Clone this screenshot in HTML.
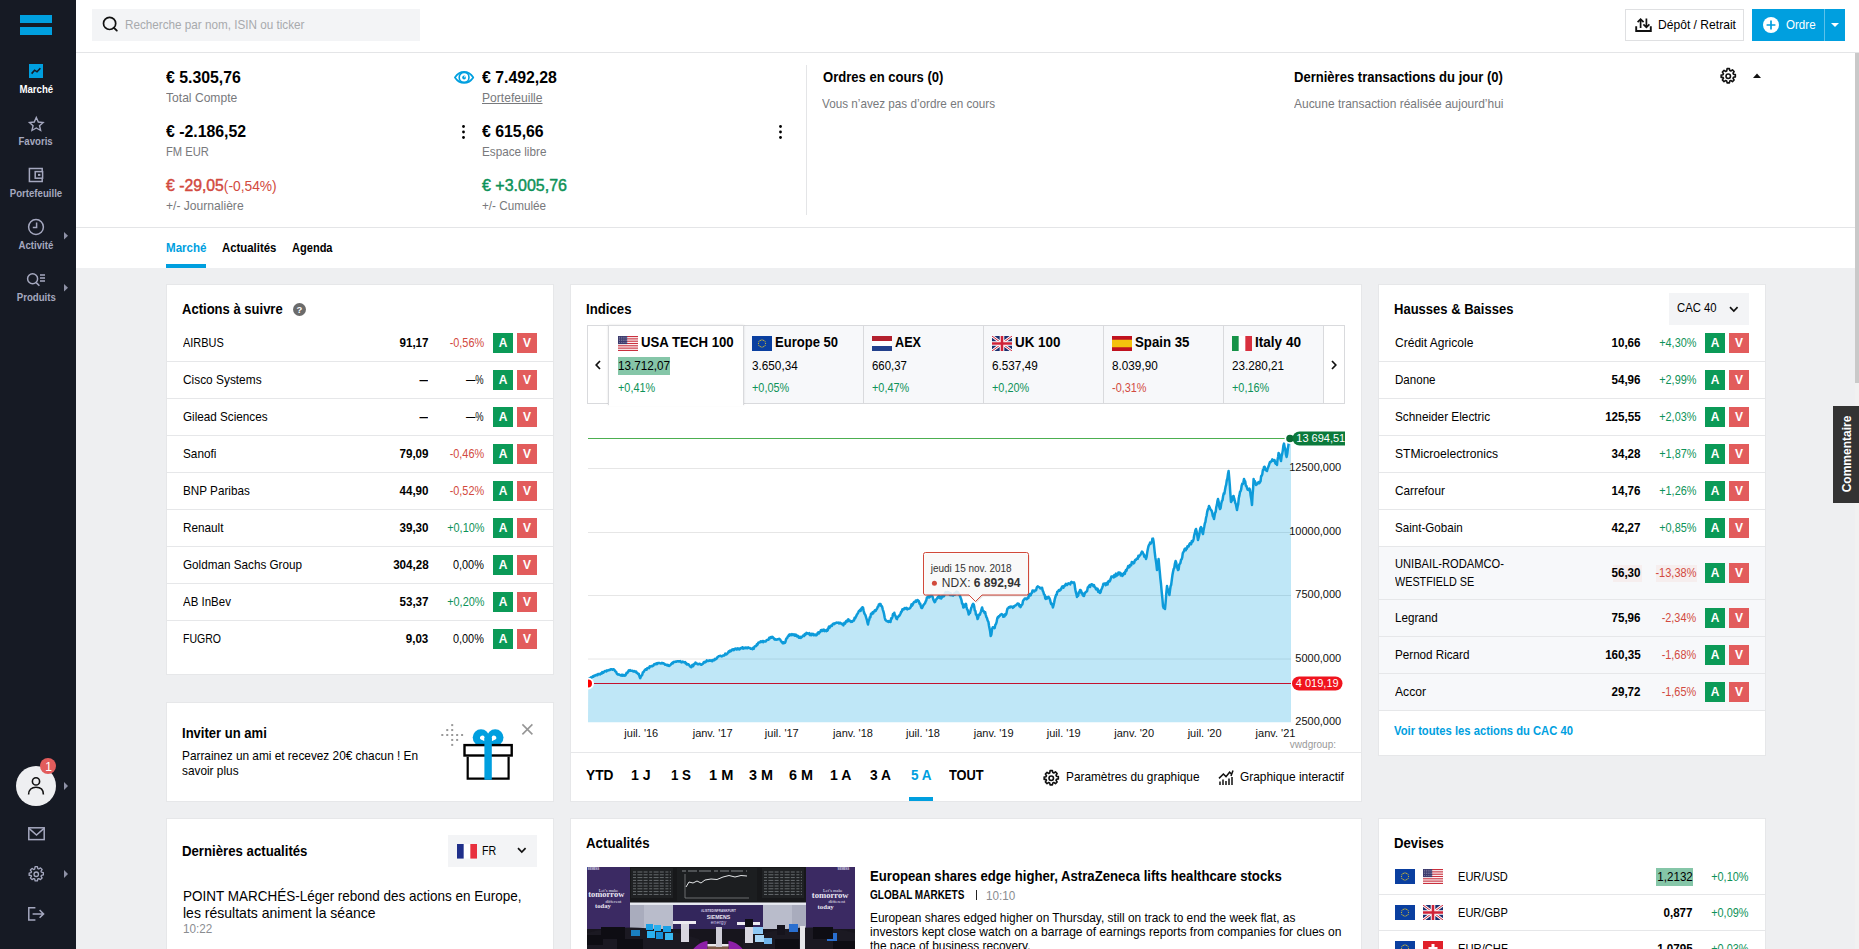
<!DOCTYPE html>
<html lang="fr"><head><meta charset="utf-8"><title>Marché</title>
<style>
*{box-sizing:border-box;margin:0;padding:0}
html,body{width:1859px;height:949px;overflow:hidden}
body{position:relative;background:#eeeff1;font-family:"Liberation Sans",sans-serif;color:#000}
.a{position:absolute}
.t{position:absolute;white-space:nowrap;line-height:1;transform-origin:0 50%;transform:scaleX(.905)}
.t.r{transform-origin:100% 50%}
.b{font-weight:700;transform:scaleX(.87)}
.n{transform:none}
.md{font-weight:400;-webkit-text-stroke:.45px currentColor}
.nm{-webkit-text-stroke:0}
.card{background:#fff;border:1px solid #e6e7e9}
.btn{position:absolute;width:20px;height:20px;color:#fff;font-weight:700;font-size:12px;line-height:20px;text-align:center}
.btn.A{background:#0b9a57}.btn.V{background:#e25c5c}
svg{overflow:visible}
.st{display:inline-block;font-size:11px;font-weight:700;line-height:1;white-space:nowrap;transform:scaleX(.875)}
</style></head>
<body>
<div class="a" style="left:76px;top:0px;width:1783px;height:53px;background:#fff;border-bottom:1px solid #e4e5e7"></div>
<div class="a" style="left:92px;top:9px;width:328px;height:32px;background:#f3f4f6"></div>
<svg class="a" style="left:102px;top:16px" width="18" height="18" viewBox="0 0 18 18"><circle cx="7.6" cy="7.4" r="6.1" fill="none" stroke="#111" stroke-width="1.7"/><path d="M12 11.8L14.8 14.6" stroke="#111" stroke-width="1.9" stroke-linecap="round"/></svg>
<div class="t" style="left:125.4px;top:18px;font-size:13px;color:#a8aaad;transform:scaleX(0.9)">Recherche par nom, ISIN ou ticker</div>
<div class="a" style="left:1625px;top:9px;width:119px;height:32px;background:#fff;border:1px solid #dfe0e2"></div>
<svg class="a" style="left:1635px;top:17px" width="18" height="16" viewBox="0 0 18 16"><path d="M1.2 9.3V14H15.8V9.3" fill="none" stroke="#111" stroke-width="1.9"/><path d="M5.6 11V2.6M2.6 5.2L5.6 2.2L8.6 5.2" fill="none" stroke="#111" stroke-width="1.7"/><path d="M11.4 1.6V10M8.4 7.4L11.4 10.4L14.4 7.4" fill="none" stroke="#111" stroke-width="1.7"/></svg>
<div class="t" style="left:1658px;top:18px;font-size:13px;transform:scaleX(0.93)">Dépôt / Retrait</div>
<div class="a" style="left:1752px;top:9px;width:93px;height:32px;background:#009fdf"></div>
<div class="a" style="left:1824px;top:9px;width:1px;height:32px;background:#5cc1ea"></div>
<svg class="a" style="left:1763px;top:17px" width="16" height="16" viewBox="0 0 16 16"><circle cx="8" cy="8" r="8" fill="#fff"/><path d="M8 3.6V12.4M3.6 8H12.4" stroke="#009fdf" stroke-width="1.7"/></svg>
<div class="t" style="left:1785.6px;top:18px;font-size:13px;color:#fff;transform:scaleX(0.891)">Ordre</div>
<svg class="a" style="left:1831px;top:23px" width="8" height="4" viewBox="0 0 8 4"><path d="M0 0H8L4 4Z" fill="#fff"/></svg>
<div class="a" style="left:0px;top:0px;width:76px;height:949px;background:#161a24"></div>
<div class="a" style="left:20px;top:15px;width:32px;height:8px;background:#009fdf"></div>
<div class="a" style="left:20px;top:27px;width:32px;height:8px;background:#009fdf"></div>
<div class="a" style="left:29px;top:64px;width:14px;height:14px;background:#009fdf"></div>
<svg class="a" style="left:29px;top:64px" width="14" height="14" viewBox="0 0 14 14"><path d="M2.6 9.6L5.6 6.2L8 7.8L11.4 4.2" fill="none" stroke="#161a24" stroke-width="1.6"/></svg>
<div class="a" style="left:0;width:72px;top:84px;text-align:center;font-size:11px;line-height:1;height:11px"><span class="st" style="color:#fff">Marché</span></div>
<svg class="a" style="left:27.7px;top:115.6px" width="16.6" height="15.7" viewBox="0 0 18 17"><path d="M9 1.6L11.2 6.5L16.4 7L12.5 10.5L13.7 15.7L9 13L4.3 15.7L5.5 10.5L1.6 7L6.8 6.5Z" fill="none" stroke="#a5a8bf" stroke-width="1.5" stroke-linejoin="miter"/></svg>
<div class="a" style="left:0;width:72px;top:136px;text-align:center;font-size:11px;line-height:1;height:11px"><span class="st" style="color:#a5a8bf">Favoris</span></div>
<svg class="a" style="left:28px;top:167px" width="16" height="16" viewBox="0 0 16 16"><path d="M14.2 4V1.6H1.4V14.4H14.2V12" fill="none" stroke="#a5a8bf" stroke-width="1.5"/><rect x="7.2" y="4.6" width="7.4" height="6.6" fill="none" stroke="#a5a8bf" stroke-width="1.5"/><rect x="10" y="6.9" width="2.4" height="2" fill="#a5a8bf"/></svg>
<div class="a" style="left:0;width:72px;top:188px;text-align:center;font-size:11px;line-height:1;height:11px"><span class="st" style="color:#a5a8bf">Portefeuille</span></div>
<svg class="a" style="left:27px;top:218px" width="18" height="18" viewBox="0 0 18 18"><circle cx="9" cy="9" r="7.4" fill="none" stroke="#a5a8bf" stroke-width="1.5"/><path d="M9.6 4.6V9.6H5.8" fill="none" stroke="#a5a8bf" stroke-width="1.5"/></svg>
<div class="a" style="left:0;width:72px;top:240px;text-align:center;font-size:11px;line-height:1;height:11px"><span class="st" style="color:#a5a8bf">Activité</span></div>
<svg class="a" style="left:64px;top:231.5px" width="4" height="7.5" viewBox="0 0 4 7.5"><path d="M0 0L4 3.75L0 7.5Z" fill="#8e91a6"/></svg>
<svg class="a" style="left:26px;top:272px" width="20" height="15" viewBox="0 0 20 15"><circle cx="6.6" cy="6.8" r="5" fill="none" stroke="#a5a8bf" stroke-width="1.5"/><path d="M10.2 10.6L13.4 13.8" stroke="#a5a8bf" stroke-width="1.6"/><path d="M14 3H19M14 6H19M14 9H19" stroke="#a5a8bf" stroke-width="1.5"/></svg>
<div class="a" style="left:0;width:72px;top:292px;text-align:center;font-size:11px;line-height:1;height:11px"><span class="st" style="color:#a5a8bf">Produits</span></div>
<svg class="a" style="left:64px;top:283.5px" width="4" height="7.5" viewBox="0 0 4 7.5"><path d="M0 0L4 3.75L0 7.5Z" fill="#8e91a6"/></svg>
<div class="a" style="left:16px;top:766px;width:40px;height:40px;background:#eeeff1;border-radius:50%"></div>
<svg class="a" style="left:26px;top:775px" width="20" height="22" viewBox="0 0 20 22"><circle cx="10" cy="6.4" r="3.6" fill="none" stroke="#111" stroke-width="1.6"/><path d="M2.6 19.4C2.6 14.6 5.8 12.2 10 12.2C14.2 12.2 17.4 14.6 17.4 19.4" fill="none" stroke="#111" stroke-width="1.6"/></svg>
<div class="a" style="left:40px;top:758px;width:16px;height:16px;background:#e25c5c;border-radius:50%"></div>
<div class="t" style="left:45.2px;top:761px;font-size:12px;color:#fff;transform:scaleX(1)">1</div>
<svg class="a" style="left:64px;top:782px" width="4" height="8" viewBox="0 0 4 8"><path d="M0 0L4 4L0 8Z" fill="#8e91a6"/></svg>
<svg class="a" style="left:28px;top:827px" width="17" height="14" viewBox="0 0 17 14"><rect x="0.8" y="0.8" width="15.4" height="11.8" fill="none" stroke="#a5a8bf" stroke-width="1.5"/><path d="M1 1.4L8.5 8L16 1.4" fill="none" stroke="#a5a8bf" stroke-width="1.5"/></svg>
<svg class="a" style="left:28px;top:866px" width="16.5" height="16.5" viewBox="0 0 20 20"><path d="M8.6 0.8h2.8l.5 2.3 1.2.5 2-1.3 2 2-1.3 2 .5 1.2 2.3.5v2.8l-2.3.5-.5 1.2 1.3 2-2 2-2-1.3-1.2.5-.5 2.3H8.600000000000001l-.5-2.3-1.2-.5-2 1.3-2-2 1.3-2-.5-1.2L1.4 11.400000000000002V8.600000000000001l2.3-.5.5-1.2-1.3-2 2-2 2 1.3 1.2-.5z" fill="none" stroke="#a5a8bf" stroke-width="1.6" stroke-linejoin="round"/><circle cx="10" cy="10" r="2.7" fill="none" stroke="#a5a8bf" stroke-width="1.6"/></svg>
<svg class="a" style="left:64px;top:870px" width="4" height="8" viewBox="0 0 4 8"><path d="M0 0L4 4L0 8Z" fill="#8e91a6"/></svg>
<svg class="a" style="left:28px;top:907px" width="17" height="14" viewBox="0 0 17 14"><path d="M7.4 0.8H0.8V13H7.4" fill="none" stroke="#a5a8bf" stroke-width="1.5"/><path d="M4.6 6.9H15.4M11.6 3L15.6 6.9L11.6 10.8" fill="none" stroke="#a5a8bf" stroke-width="1.5"/></svg>
<div class="a" style="left:76px;top:53px;width:1779px;height:174px;background:#fff"></div>
<div class="a" style="left:76px;top:227px;width:1779px;height:41px;background:#fff;border-top:1px solid #e4e5e7"></div>
<div class="a" style="left:1855px;top:53px;width:4px;height:896px;background:#f1f1f1"></div>
<div class="a" style="left:1855px;top:53px;width:4px;height:330px;background:#c9c9c9"></div>
<div class="t b" style="left:166px;top:70px;font-size:16px;color:#000;transform:scaleX(0.99)">€ 5.305,76</div>
<div class="t" style="left:166px;top:91px;font-size:13px;color:#78797c;transform:scaleX(0.93)">Total Compte</div>
<div class="t b" style="left:166px;top:124px;font-size:16px;color:#000;transform:scaleX(0.99)">€ -2.186,52</div>
<div class="t" style="left:166px;top:145px;font-size:13px;color:#78797c;transform:scaleX(0.86)">FM EUR</div>
<div class="t md" style="left:166px;top:178px;font-size:16px;color:#d24a40;transform:scaleX(.985)">€ -29,05<span class="nm" style="font-size:14px">(-0,54%)</span></div>
<div class="t" style="left:166px;top:199px;font-size:13px;color:#78797c;transform:scaleX(0.93)">+/- Journalière</div>
<div class="t b" style="left:482px;top:70px;font-size:16px;color:#000;transform:scaleX(0.99)">€ 7.492,28</div>
<div class="t" style="left:482px;top:91px;font-size:13px;color:#78797c;transform:scaleX(0.93);text-decoration:underline">Portefeuille</div>
<div class="t b" style="left:482px;top:124px;font-size:16px;color:#000;transform:scaleX(0.99)">€ 615,66</div>
<div class="t" style="left:482px;top:145px;font-size:13px;color:#78797c;transform:scaleX(0.9)">Espace libre</div>
<div class="t md" style="left:482px;top:178px;font-size:16px;color:#0d9258;transform:scaleX(1.0)">€ +3.005,76</div>
<div class="t" style="left:482px;top:199px;font-size:13px;color:#78797c;transform:scaleX(0.9)">+/- Cumulée</div>
<svg class="a" style="left:454px;top:70px" width="20" height="14" viewBox="0 0 20 14"><path d="M0.9 7.4C4 2.8 7.4 1.9 10.1 1.9C12.8 1.9 16.2 2.8 19.3 7.4C16.2 12 12.8 12.9 10.1 12.9C7.4 12.9 4 12 0.9 7.4Z" fill="none" stroke="#009fdf" stroke-width="1.7" stroke-linejoin="round"/><circle cx="10.1" cy="7.4" r="4.9" fill="none" stroke="#009fdf" stroke-width="1.6"/><circle cx="10.1" cy="7.5" r="1.9" fill="#009fdf"/><circle cx="10.9" cy="6.7" r="0.8" fill="#fff"/></svg>
<svg class="a" style="left:462px;top:124.5px" width="3" height="14" viewBox="0 0 3 14"><circle cx="1.5" cy="1.5" r="1.4"/><circle cx="1.5" cy="7" r="1.4"/><circle cx="1.5" cy="12.5" r="1.4"/></svg>
<svg class="a" style="left:778.5px;top:124.5px" width="3" height="14" viewBox="0 0 3 14"><circle cx="1.5" cy="1.5" r="1.4"/><circle cx="1.5" cy="7" r="1.4"/><circle cx="1.5" cy="12.5" r="1.4"/></svg>
<div class="a" style="left:806px;top:65px;width:1px;height:150px;background:#e4e5e7"></div>
<div class="t b" style="left:822.5px;top:69px;font-size:15px">Ordres en cours (0)</div>
<div class="t" style="left:822.3px;top:97px;font-size:13px;color:#78797c;transform:scaleX(0.9)">Vous n’avez pas d’ordre en cours</div>
<div class="t b" style="left:1294px;top:69px;font-size:15px">Dernières transactions du jour (0)</div>
<div class="t" style="left:1294px;top:97px;font-size:13px;color:#78797c;transform:scaleX(0.92)">Aucune transaction réalisée aujourd’hui</div>
<svg class="a" style="left:1720px;top:67.5px" width="16.5" height="16.5" viewBox="0 0 20 20"><path d="M8.6 0.8h2.8l.5 2.3 1.2.5 2-1.3 2 2-1.3 2 .5 1.2 2.3.5v2.8l-2.3.5-.5 1.2 1.3 2-2 2-2-1.3-1.2.5-.5 2.3H8.600000000000001l-.5-2.3-1.2-.5-2 1.3-2-2 1.3-2-.5-1.2L1.4 11.400000000000002V8.600000000000001l2.3-.5.5-1.2-1.3-2 2-2 2 1.3 1.2-.5z" fill="none" stroke="#111" stroke-width="1.95" stroke-linejoin="round"/><circle cx="10" cy="10" r="2.7" fill="none" stroke="#111" stroke-width="1.95"/></svg>
<svg class="a" style="left:1752.5px;top:73px" width="8" height="5" viewBox="0 0 8 5"><path d="M0 5H8L4 0.6Z" fill="#111"/></svg>
<div class="t" style="left:166px;top:241px;font-size:13px;color:#009fdf;transform:scaleX(0.89);font-weight:700">Marché</div>
<div class="t" style="left:222px;top:241px;font-size:13px;transform:scaleX(0.875);font-weight:700">Actualités</div>
<div class="t" style="left:292.3px;top:241px;font-size:13px;transform:scaleX(0.85);font-weight:700">Agenda</div>
<div class="a" style="left:166px;top:264px;width:40px;height:4px;background:#009fdf"></div>
<div class="a card" style="left:166px;top:284px;width:388px;height:391px"></div>
<div class="t b" style="left:182.2px;top:301px;font-size:15px;transform:scaleX(0.869)">Actions à suivre</div>
<svg class="a" style="left:292.7px;top:303px" width="13" height="13" viewBox="0 0 13 13"><circle cx="6.5" cy="6.5" r="6.5" fill="#6b6b6b"/><text x="6.5" y="10" font-size="9.5" font-weight="700" text-anchor="middle" fill="#fff" font-family="Liberation Sans, sans-serif">?</text></svg>
<div class="t" style="left:182.7px;top:336px;font-size:13px;transform:scaleX(0.843)">AIRBUS</div>
<div class="t r b" style="right:1430.7px;top:336px;font-size:13px;transform:scaleX(0.894)">91,17</div>
<div class="t r" style="right:1375px;top:336px;font-size:13px;color:#d24a40;transform:scaleX(0.839)">-0,56%</div>
<div class="btn A" style="left:493px;top:333px">A</div><div class="btn V" style="left:517px;top:333px">V</div>
<div class="a" style="left:167px;top:361px;width:386px;height:1px;background:#e6e7e9"></div>
<div class="t" style="left:182.7px;top:373px;font-size:13px;transform:scaleX(0.914)">Cisco Systems</div>
<div class="t r b" style="right:1430.7px;top:373px;font-size:13px;transform:scaleX(0.65)">—</div>
<div class="t r" style="right:1375px;top:373px;font-size:13px;color:#000;transform:scaleX(0.72)">—%</div>
<div class="btn A" style="left:493px;top:370px">A</div><div class="btn V" style="left:517px;top:370px">V</div>
<div class="a" style="left:167px;top:398px;width:386px;height:1px;background:#e6e7e9"></div>
<div class="t" style="left:182.7px;top:410px;font-size:13px;transform:scaleX(0.9)">Gilead Sciences</div>
<div class="t r b" style="right:1430.7px;top:410px;font-size:13px;transform:scaleX(0.65)">—</div>
<div class="t r" style="right:1375px;top:410px;font-size:13px;color:#000;transform:scaleX(0.72)">—%</div>
<div class="btn A" style="left:493px;top:407px">A</div><div class="btn V" style="left:517px;top:407px">V</div>
<div class="a" style="left:167px;top:435px;width:386px;height:1px;background:#e6e7e9"></div>
<div class="t" style="left:182.7px;top:447px;font-size:13px;transform:scaleX(0.906)">Sanofi</div>
<div class="t r b" style="right:1430.7px;top:447px;font-size:13px;transform:scaleX(0.894)">79,09</div>
<div class="t r" style="right:1375px;top:447px;font-size:13px;color:#d24a40;transform:scaleX(0.839)">-0,46%</div>
<div class="btn A" style="left:493px;top:444px">A</div><div class="btn V" style="left:517px;top:444px">V</div>
<div class="a" style="left:167px;top:472px;width:386px;height:1px;background:#e6e7e9"></div>
<div class="t" style="left:182.7px;top:484px;font-size:13px;transform:scaleX(0.9)">BNP Paribas</div>
<div class="t r b" style="right:1430.7px;top:484px;font-size:13px;transform:scaleX(0.894)">44,90</div>
<div class="t r" style="right:1375px;top:484px;font-size:13px;color:#d24a40;transform:scaleX(0.839)">-0,52%</div>
<div class="btn A" style="left:493px;top:481px">A</div><div class="btn V" style="left:517px;top:481px">V</div>
<div class="a" style="left:167px;top:509px;width:386px;height:1px;background:#e6e7e9"></div>
<div class="t" style="left:182.7px;top:521px;font-size:13px;transform:scaleX(0.903)">Renault</div>
<div class="t r b" style="right:1430.7px;top:521px;font-size:13px;transform:scaleX(0.894)">39,30</div>
<div class="t r" style="right:1375px;top:521px;font-size:13px;color:#0d9258;transform:scaleX(0.838)">+0,10%</div>
<div class="btn A" style="left:493px;top:518px">A</div><div class="btn V" style="left:517px;top:518px">V</div>
<div class="a" style="left:167px;top:546px;width:386px;height:1px;background:#e6e7e9"></div>
<div class="t" style="left:182.7px;top:558px;font-size:13px;transform:scaleX(0.9)">Goldman Sachs Group</div>
<div class="t r b" style="right:1430.7px;top:558px;font-size:13px;transform:scaleX(0.896)">304,28</div>
<div class="t r" style="right:1375px;top:558px;font-size:13px;color:#000;transform:scaleX(0.839)">0,00%</div>
<div class="btn A" style="left:493px;top:555px">A</div><div class="btn V" style="left:517px;top:555px">V</div>
<div class="a" style="left:167px;top:583px;width:386px;height:1px;background:#e6e7e9"></div>
<div class="t" style="left:182.7px;top:595px;font-size:13px;transform:scaleX(0.884)">AB InBev</div>
<div class="t r b" style="right:1430.7px;top:595px;font-size:13px;transform:scaleX(0.894)">53,37</div>
<div class="t r" style="right:1375px;top:595px;font-size:13px;color:#0d9258;transform:scaleX(0.838)">+0,20%</div>
<div class="btn A" style="left:493px;top:592px">A</div><div class="btn V" style="left:517px;top:592px">V</div>
<div class="a" style="left:167px;top:620px;width:386px;height:1px;background:#e6e7e9"></div>
<div class="t" style="left:182.7px;top:632px;font-size:13px;transform:scaleX(0.81)">FUGRO</div>
<div class="t r b" style="right:1430.7px;top:632px;font-size:13px;transform:scaleX(0.891)">9,03</div>
<div class="t r" style="right:1375px;top:632px;font-size:13px;color:#000;transform:scaleX(0.839)">0,00%</div>
<div class="btn A" style="left:493px;top:629px">A</div><div class="btn V" style="left:517px;top:629px">V</div>
<div class="a card" style="left:1378px;top:284px;width:388px;height:472px"></div>
<div class="t b" style="left:1393.7px;top:301px;font-size:15px;transform:scaleX(0.868)">Hausses &amp; Baisses</div>
<div class="a" style="left:1669px;top:293px;width:80px;height:32px;background:#f3f4f6"></div>
<div class="t" style="left:1677px;top:301px;font-size:13px;transform:scaleX(0.868)">CAC 40</div>
<svg class="a" style="left:1729.3px;top:305.5px" width="9.6" height="6.2" viewBox="0 0 9.6 6.2"><path d="M1 1.2L4.8 5L8.600000000000001 1.2" fill="none" stroke="#111" stroke-width="1.7"/></svg>
<div class="t" style="left:1394.7px;top:336px;font-size:13px;transform:scaleX(0.927)">Crédit Agricole</div>
<div class="t r b" style="right:218.5px;top:336px;font-size:13px;transform:scaleX(0.894)">10,66</div>
<div class="t r" style="right:163px;top:336px;font-size:13px;color:#0d9258;transform:scaleX(0.838)">+4,30%</div>
<div class="btn A" style="left:1705px;top:333px">A</div><div class="btn V" style="left:1729px;top:333px">V</div>
<div class="a" style="left:1379px;top:361px;width:386px;height:1px;background:#e6e7e9"></div>
<div class="t" style="left:1394.7px;top:373px;font-size:13px;transform:scaleX(0.889)">Danone</div>
<div class="t r b" style="right:218.5px;top:373px;font-size:13px;transform:scaleX(0.894)">54,96</div>
<div class="t r" style="right:163px;top:373px;font-size:13px;color:#0d9258;transform:scaleX(0.838)">+2,99%</div>
<div class="btn A" style="left:1705px;top:370px">A</div><div class="btn V" style="left:1729px;top:370px">V</div>
<div class="a" style="left:1379px;top:398px;width:386px;height:1px;background:#e6e7e9"></div>
<div class="t" style="left:1394.7px;top:410px;font-size:13px;transform:scaleX(0.907)">Schneider Electric</div>
<div class="t r b" style="right:218.5px;top:410px;font-size:13px;transform:scaleX(0.896)">125,55</div>
<div class="t r" style="right:163px;top:410px;font-size:13px;color:#0d9258;transform:scaleX(0.838)">+2,03%</div>
<div class="btn A" style="left:1705px;top:407px">A</div><div class="btn V" style="left:1729px;top:407px">V</div>
<div class="a" style="left:1379px;top:435px;width:386px;height:1px;background:#e6e7e9"></div>
<div class="t" style="left:1394.7px;top:447px;font-size:13px;transform:scaleX(0.932)">STMicroelectronics</div>
<div class="t r b" style="right:218.5px;top:447px;font-size:13px;transform:scaleX(0.894)">34,28</div>
<div class="t r" style="right:163px;top:447px;font-size:13px;color:#0d9258;transform:scaleX(0.838)">+1,87%</div>
<div class="btn A" style="left:1705px;top:444px">A</div><div class="btn V" style="left:1729px;top:444px">V</div>
<div class="a" style="left:1379px;top:472px;width:386px;height:1px;background:#e6e7e9"></div>
<div class="t" style="left:1394.7px;top:484px;font-size:13px;transform:scaleX(0.909)">Carrefour</div>
<div class="t r b" style="right:218.5px;top:484px;font-size:13px;transform:scaleX(0.894)">14,76</div>
<div class="t r" style="right:163px;top:484px;font-size:13px;color:#0d9258;transform:scaleX(0.838)">+1,26%</div>
<div class="btn A" style="left:1705px;top:481px">A</div><div class="btn V" style="left:1729px;top:481px">V</div>
<div class="a" style="left:1379px;top:509px;width:386px;height:1px;background:#e6e7e9"></div>
<div class="t" style="left:1394.7px;top:521px;font-size:13px;transform:scaleX(0.892)">Saint-Gobain</div>
<div class="t r b" style="right:218.5px;top:521px;font-size:13px;transform:scaleX(0.894)">42,27</div>
<div class="t r" style="right:163px;top:521px;font-size:13px;color:#0d9258;transform:scaleX(0.838)">+0,85%</div>
<div class="btn A" style="left:1705px;top:518px">A</div><div class="btn V" style="left:1729px;top:518px">V</div>
<div class="a" style="left:1379px;top:546px;width:386px;height:53px;background:#f7f8fa"></div>
<div class="a" style="left:1379px;top:546px;width:386px;height:1px;background:#e6e7e9"></div>
<div class="t" style="left:1394.7px;top:557px;font-size:13px;transform:scaleX(0.857)">UNIBAIL-RODAMCO-</div>
<div class="t" style="left:1394.7px;top:575px;font-size:13px;transform:scaleX(0.83)">WESTFIELD SE</div>
<div class="a" style="left:1612.5px;top:564.5px;width:29px;height:17px;background:#f6eeee"></div>
<div class="a" style="left:1656px;top:564.5px;width:41px;height:17px;background:#f6eeee"></div>
<div class="t r b" style="right:218.5px;top:566px;font-size:13px;transform:scaleX(0.894)">56,30</div>
<div class="t r" style="right:163px;top:566px;font-size:13px;color:#d24a40;transform:scaleX(0.846)">-13,38%</div>
<div class="btn A" style="left:1705px;top:563px">A</div><div class="btn V" style="left:1729px;top:563px">V</div>
<div class="a" style="left:1379px;top:599px;width:386px;height:37px;background:#f7f8fa"></div>
<div class="a" style="left:1379px;top:599px;width:386px;height:1px;background:#e6e7e9"></div>
<div class="t" style="left:1394.7px;top:611px;font-size:13px;transform:scaleX(0.895)">Legrand</div>
<div class="t r b" style="right:218.5px;top:611px;font-size:13px;transform:scaleX(0.894)">75,96</div>
<div class="t r" style="right:163px;top:611px;font-size:13px;color:#d24a40;transform:scaleX(0.839)">-2,34%</div>
<div class="btn A" style="left:1705px;top:608px">A</div><div class="btn V" style="left:1729px;top:608px">V</div>
<div class="a" style="left:1379px;top:636px;width:386px;height:37px;background:#f7f8fa"></div>
<div class="a" style="left:1379px;top:636px;width:386px;height:1px;background:#e6e7e9"></div>
<div class="t" style="left:1394.7px;top:648px;font-size:13px;transform:scaleX(0.896)">Pernod Ricard</div>
<div class="t r b" style="right:218.5px;top:648px;font-size:13px;transform:scaleX(0.896)">160,35</div>
<div class="t r" style="right:163px;top:648px;font-size:13px;color:#d24a40;transform:scaleX(0.839)">-1,68%</div>
<div class="btn A" style="left:1705px;top:645px">A</div><div class="btn V" style="left:1729px;top:645px">V</div>
<div class="a" style="left:1379px;top:673px;width:386px;height:37px;background:#f7f8fa"></div>
<div class="a" style="left:1379px;top:673px;width:386px;height:1px;background:#e6e7e9"></div>
<div class="t" style="left:1394.7px;top:685px;font-size:13px;transform:scaleX(0.933)">Accor</div>
<div class="t r b" style="right:218.5px;top:685px;font-size:13px;transform:scaleX(0.894)">29,72</div>
<div class="t r" style="right:163px;top:685px;font-size:13px;color:#d24a40;transform:scaleX(0.839)">-1,65%</div>
<div class="btn A" style="left:1705px;top:682px">A</div><div class="btn V" style="left:1729px;top:682px">V</div>
<div class="a" style="left:1379px;top:710px;width:386px;height:1px;background:#e6e7e9"></div>
<div class="t b" style="left:1393.8px;top:724px;font-size:13px;color:#009fdf;transform:scaleX(0.864)">Voir toutes les actions du CAC 40</div>
<div class="a card" style="left:166px;top:702px;width:388px;height:100px"></div>
<div class="t b" style="left:182.3px;top:725px;font-size:15px">Inviter un ami</div>
<div class="t" style="left:182.4px;top:749px;font-size:13px;transform:scaleX(0.91)">Parrainez un ami et recevez 20€ chacun ! En</div>
<div class="t" style="left:182.4px;top:764px;font-size:13px;transform:scaleX(0.91)">savoir plus</div>
<svg class="a" style="left:521.6px;top:723.6px" width="10.8" height="10.8" viewBox="0 0 10.8 10.8"><path d="M0.4 0.4L10.4 10.4M10.4 0.4L0.4 10.4" stroke="#969696" stroke-width="1.6"/></svg>
<svg class="a" style="left:435px;top:715px" width="110" height="75" viewBox="435 715 110 75"><clipPath id="bowc"><rect x="470" y="725" width="40" height="19.6"/></clipPath><g clip-path="url(#bowc)"><circle cx="481" cy="737.5" r="8.3" fill="#009fdf"/><circle cx="495.2" cy="737.5" r="8.3" fill="#009fdf"/><path d="M484.6 741.2L480.6 739.3C479.2 738.2 480.2 735.6 482.4 735.4C484 735.3 484.6 736.6 484.6 738Z" fill="#fff"/><path d="M491.7 741.2L495.7 739.3C497.1 738.2 496.1 735.6 493.9 735.4C492.3 735.3 491.7 736.6 491.7 738Z" fill="#fff"/></g><rect x="464.5" y="745.1" width="47.2" height="10.4" fill="#fff" stroke="#000" stroke-width="2.4"/><path d="M467.7 756.7V778.7H508.6V756.7" fill="none" stroke="#000" stroke-width="2.2"/><rect x="484.4" y="738" width="7.4" height="41.8" fill="#009fdf"/><rect x="451.20" y="724.10" width="2" height="2" fill="#999"/><rect x="446.25" y="729.05" width="2" height="2" fill="#999"/><rect x="451.20" y="729.05" width="2" height="2" fill="#999"/><rect x="441.30" y="734.00" width="2" height="2" fill="#999"/><rect x="446.25" y="734.00" width="2" height="2" fill="#999"/><rect x="451.20" y="734.00" width="2" height="2" fill="#999"/><rect x="456.15" y="734.00" width="2" height="2" fill="#999"/><rect x="461.10" y="734.00" width="2" height="2" fill="#999"/><rect x="451.20" y="738.95" width="2" height="2" fill="#999"/><rect x="456.15" y="738.95" width="2" height="2" fill="#999"/><rect x="451.20" y="743.90" width="2" height="2" fill="#999"/></svg>
<div class="a card" style="left:570px;top:284px;width:792px;height:518px"></div>
<div class="t b" style="left:586.2px;top:301px;font-size:15px;transform:scaleX(0.88)">Indices</div>
<div class="a" style="left:587px;top:325px;width:758px;height:79px;background:#f7f8fa;border:1px solid #d9dadd"></div>
<div class="a" style="left:587px;top:325px;width:22px;height:79px;background:#fff;border:1px solid #d9dadd"></div>
<div class="a" style="left:1323px;top:325px;width:22px;height:79px;background:#fff;border:1px solid #d9dadd"></div>
<div class="a" style="left:608px;top:325px;width:136px;height:80px;background:#fff;border:1px solid #d9dadd;border-bottom:none;box-shadow:0 0 2px rgba(0,0,0,.12)"></div>
<div class="a" style="left:609px;top:403px;width:134px;height:3px;background:#fff"></div>
<div class="a" style="left:863px;top:326px;width:1px;height:77px;background:#d9dadd"></div>
<div class="a" style="left:983px;top:326px;width:1px;height:77px;background:#d9dadd"></div>
<div class="a" style="left:1103px;top:326px;width:1px;height:77px;background:#d9dadd"></div>
<div class="a" style="left:1223px;top:326px;width:1px;height:77px;background:#d9dadd"></div>
<svg class="a" style="left:594.5px;top:359.5px" width="6" height="10" viewBox="0 0 6 10"><path d="M5 1L1.2 5L5 9" fill="none" stroke="#111" stroke-width="1.7"/></svg>
<svg class="a" style="left:1330.5px;top:359.5px" width="6" height="10" viewBox="0 0 6 10"><path d="M1 1L4.8 5L1 9" fill="none" stroke="#111" stroke-width="1.7"/></svg>
<svg class="a" style="left:618px;top:336px;overflow:hidden" width="20" height="15" viewBox="0 0 20 15"><rect width="20" height="15" fill="#fff"/><rect y="0.00" width="20" height="1.15" fill="#c9303e"/><rect y="2.31" width="20" height="1.15" fill="#c9303e"/><rect y="4.62" width="20" height="1.15" fill="#c9303e"/><rect y="6.92" width="20" height="1.15" fill="#c9303e"/><rect y="9.23" width="20" height="1.15" fill="#c9303e"/><rect y="11.54" width="20" height="1.15" fill="#c9303e"/><rect y="13.85" width="20" height="1.15" fill="#c9303e"/><rect width="9.2" height="8.10" fill="#3c3b6e"/><circle cx="1.3" cy="1.2" r="0.35" fill="#fff"/><circle cx="1.3" cy="2.9" r="0.35" fill="#fff"/><circle cx="1.3" cy="4.6" r="0.35" fill="#fff"/><circle cx="1.3" cy="6.3" r="0.35" fill="#fff"/><circle cx="3.2" cy="1.2" r="0.35" fill="#fff"/><circle cx="3.2" cy="2.9" r="0.35" fill="#fff"/><circle cx="3.2" cy="4.6" r="0.35" fill="#fff"/><circle cx="3.2" cy="6.3" r="0.35" fill="#fff"/><circle cx="5.1" cy="1.2" r="0.35" fill="#fff"/><circle cx="5.1" cy="2.9" r="0.35" fill="#fff"/><circle cx="5.1" cy="4.6" r="0.35" fill="#fff"/><circle cx="5.1" cy="6.3" r="0.35" fill="#fff"/><circle cx="7.0" cy="1.2" r="0.35" fill="#fff"/><circle cx="7.0" cy="2.9" r="0.35" fill="#fff"/><circle cx="7.0" cy="4.6" r="0.35" fill="#fff"/><circle cx="7.0" cy="6.3" r="0.35" fill="#fff"/><circle cx="8.9" cy="1.2" r="0.35" fill="#fff"/><circle cx="8.9" cy="2.9" r="0.35" fill="#fff"/><circle cx="8.9" cy="4.6" r="0.35" fill="#fff"/><circle cx="8.9" cy="6.3" r="0.35" fill="#fff"/></svg>
<div class="t b" style="left:641.4px;top:334px;font-size:15px;transform:scaleX(0.88)">USA TECH 100</div>
<div class="a" style="left:618px;top:357.2px;width:52px;height:17.5px;background:#85c6a8"></div>
<div class="t" style="left:618px;top:359px;font-size:13px;transform:scaleX(0.901)">13.712,07</div>
<div class="t" style="left:618px;top:381px;font-size:13px;color:#0d9258;transform:scaleX(0.838)">+0,41%</div>
<svg class="a" style="left:751.8px;top:336px;overflow:hidden" width="20" height="15" viewBox="0 0 20 15"><rect width="20" height="15" fill="#0a3fa0"/><circle cx="13.60" cy="7.50" r="0.55" fill="#f5d21f"/><circle cx="13.12" cy="9.30" r="0.55" fill="#f5d21f"/><circle cx="11.80" cy="10.62" r="0.55" fill="#f5d21f"/><circle cx="10.00" cy="11.10" r="0.55" fill="#f5d21f"/><circle cx="8.20" cy="10.62" r="0.55" fill="#f5d21f"/><circle cx="6.88" cy="9.30" r="0.55" fill="#f5d21f"/><circle cx="6.40" cy="7.50" r="0.55" fill="#f5d21f"/><circle cx="6.88" cy="5.70" r="0.55" fill="#f5d21f"/><circle cx="8.20" cy="4.38" r="0.55" fill="#f5d21f"/><circle cx="10.00" cy="3.90" r="0.55" fill="#f5d21f"/><circle cx="11.80" cy="4.38" r="0.55" fill="#f5d21f"/><circle cx="13.12" cy="5.70" r="0.55" fill="#f5d21f"/></svg>
<div class="t b" style="left:775.2px;top:334px;font-size:15px;transform:scaleX(0.869)">Europe 50</div>
<div class="t" style="left:751.8px;top:359px;font-size:13px;transform:scaleX(0.903)">3.650,34</div>
<div class="t" style="left:751.8px;top:381px;font-size:13px;color:#0d9258;transform:scaleX(0.838)">+0,05%</div>
<svg class="a" style="left:872px;top:336px;overflow:hidden" width="20" height="15" viewBox="0 0 20 15"><rect width="20" height="15" fill="#fff"/><rect width="20" height="5.00" fill="#b3202e"/><rect y="10.00" width="20" height="5.00" fill="#22408c"/></svg>
<div class="t b" style="left:895.4px;top:334px;font-size:15px;transform:scaleX(0.843)">AEX</div>
<div class="t" style="left:872px;top:359px;font-size:13px;transform:scaleX(0.876)">660,37</div>
<div class="t" style="left:872px;top:381px;font-size:13px;color:#0d9258;transform:scaleX(0.838)">+0,47%</div>
<svg class="a" style="left:992px;top:336px;overflow:hidden" width="20" height="15" viewBox="0 0 20 15"><rect width="20" height="15" fill="#1b2f6e"/><path d="M0 0L20 15M20 0L0 15" stroke="#fff" stroke-width="2.8"/><path d="M0 0L20 15M20 0L0 15" stroke="#cf2338" stroke-width="1"/><path d="M10.0 0V15M0 7.5H20" stroke="#fff" stroke-width="4.6"/><path d="M10.0 0V15M0 7.5H20" stroke="#cf2338" stroke-width="2.6"/></svg>
<div class="t b" style="left:1015.4px;top:334px;font-size:15px;transform:scaleX(0.895)">UK 100</div>
<div class="t" style="left:992px;top:359px;font-size:13px;transform:scaleX(0.903)">6.537,49</div>
<div class="t" style="left:992px;top:381px;font-size:13px;color:#0d9258;transform:scaleX(0.838)">+0,20%</div>
<svg class="a" style="left:1112px;top:336px;overflow:hidden" width="20" height="15" viewBox="0 0 20 15"><rect width="20" height="15" fill="#f4c20d"/><rect width="20" height="3.75" fill="#c0121f"/><rect y="11.25" width="20" height="3.75" fill="#c0121f"/></svg>
<div class="t b" style="left:1135.4px;top:334px;font-size:15px;transform:scaleX(0.883)">Spain 35</div>
<div class="t" style="left:1112px;top:359px;font-size:13px;transform:scaleX(0.903)">8.039,90</div>
<div class="t" style="left:1112px;top:381px;font-size:13px;color:#d24a40;transform:scaleX(0.839)">-0,31%</div>
<svg class="a" style="left:1232px;top:336px;overflow:hidden" width="20" height="15" viewBox="0 0 20 15"><rect width="20" height="15" fill="#fff"/><rect width="6.67" height="15" fill="#159247"/><rect x="13.33" width="6.67" height="15" fill="#d8303e"/></svg>
<div class="t b" style="left:1255.4px;top:334px;font-size:15px;transform:scaleX(0.904)">Italy 40</div>
<div class="t" style="left:1232px;top:359px;font-size:13px;transform:scaleX(0.901)">23.280,21</div>
<div class="t" style="left:1232px;top:381px;font-size:13px;color:#0d9258;transform:scaleX(0.838)">+0,16%</div>
<svg class="a" style="left:571px;top:420px" width="790" height="335" viewBox="571 420 790 335"><defs><clipPath id="cp"><rect x="588" y="425" width="757" height="330"/></clipPath></defs><g clip-path="url(#cp)"><path d="M588 468.5H1291" stroke="#e6e6e6" stroke-width="1"/><path d="M588 532.5H1291" stroke="#e6e6e6" stroke-width="1"/><path d="M588 595.5H1291" stroke="#e6e6e6" stroke-width="1"/><path d="M588 659H1291" stroke="#e6e6e6" stroke-width="1"/><path d="M588.2 679.3 L588.8 678.8 L589.3 678.3 L589.9 678.7 L590.4 678.2 L591.0 677.3 L591.6 677.6 L592.2 677.1 L592.8 676.4 L593.3 676.7 L593.9 675.8 L594.5 676.0 L595.1 675.2 L595.7 675.5 L596.3 674.7 L596.9 674.9 L597.5 675.2 L598.1 674.0 L598.7 673.9 L599.3 674.2 L599.9 674.4 L600.5 673.6 L601.1 673.1 L601.7 673.7 L602.3 672.1 L602.9 672.5 L603.5 672.7 L604.1 671.7 L604.7 671.2 L605.3 671.0 L605.9 671.0 L606.5 671.4 L607.1 670.3 L607.7 670.6 L608.3 670.2 L608.9 670.3 L609.5 669.8 L610.1 670.0 L610.7 669.3 L611.3 669.2 L611.9 669.2 L612.5 669.7 L613.1 669.3 L613.7 669.3 L614.3 669.7 L615.0 671.0 L615.6 671.5 L616.2 672.0 L616.8 673.6 L617.5 674.2 L618.1 674.6 L618.7 674.3 L619.3 674.8 L619.9 674.9 L620.5 675.4 L621.1 675.3 L621.7 674.8 L622.3 675.7 L622.9 674.7 L623.5 675.2 L624.1 675.7 L624.7 675.0 L625.3 675.5 L625.9 674.6 L626.5 672.9 L627.1 673.1 L627.7 672.4 L628.3 671.2 L628.9 670.2 L629.5 670.8 L630.1 670.2 L630.7 670.8 L631.3 670.7 L631.9 670.8 L632.5 670.7 L633.1 671.3 L633.7 671.6 L634.3 671.1 L634.9 671.4 L635.6 672.1 L636.2 671.6 L636.8 672.9 L637.4 673.2 L638.1 674.1 L638.7 673.7 L639.5 676.5 L640.2 678.2 L640.9 676.6 L641.5 675.6 L642.2 675.0 L642.8 672.5 L643.5 672.2 L644.1 671.1 L644.7 670.1 L645.4 669.5 L646.0 669.0 L646.6 669.8 L647.2 668.2 L647.9 668.0 L648.5 667.8 L649.1 668.1 L649.8 666.3 L650.4 666.6 L651.0 666.2 L651.6 666.0 L652.3 666.3 L652.9 665.8 L653.5 665.6 L654.1 664.3 L654.7 664.2 L655.4 663.8 L656.0 664.3 L656.6 663.4 L657.2 664.0 L657.8 663.0 L658.4 663.0 L659.0 663.1 L659.6 663.1 L660.2 663.4 L660.8 663.6 L661.4 663.2 L662.0 662.8 L662.6 663.4 L663.2 663.3 L663.8 663.5 L664.4 663.9 L664.9 664.7 L665.5 664.6 L666.0 664.6 L666.6 665.1 L667.2 665.4 L667.7 664.7 L668.3 665.7 L668.9 666.0 L669.4 665.5 L670.0 665.4 L670.6 664.9 L671.2 663.9 L671.7 663.6 L672.3 662.7 L672.9 663.3 L673.5 662.0 L674.0 661.7 L674.6 662.1 L675.2 661.7 L675.8 661.6 L676.5 661.8 L677.1 661.3 L677.7 661.2 L678.3 661.4 L678.9 661.3 L679.6 661.6 L680.2 661.1 L680.8 661.7 L681.4 662.4 L682.0 662.2 L682.6 661.6 L683.2 661.9 L683.8 662.2 L684.4 662.4 L685.0 662.1 L685.6 663.4 L686.2 663.0 L686.8 664.4 L687.3 664.0 L687.9 664.5 L688.5 664.3 L689.0 664.9 L689.6 665.8 L690.1 666.2 L690.7 667.1 L691.3 667.2 L691.9 665.6 L692.5 664.9 L693.1 666.1 L693.7 664.9 L694.3 663.7 L694.9 664.0 L695.5 662.6 L696.1 663.0 L696.7 663.3 L697.4 664.2 L698.0 664.3 L698.6 664.2 L699.2 663.7 L699.9 664.1 L700.5 664.0 L701.1 664.8 L701.7 664.8 L702.4 663.9 L703.0 663.8 L703.6 662.5 L704.3 661.8 L704.9 662.4 L705.5 662.2 L706.2 661.5 L706.8 660.3 L707.4 660.9 L708.0 661.0 L708.6 661.0 L709.2 660.3 L709.8 660.8 L710.4 660.7 L711.0 660.3 L711.6 660.4 L712.2 661.2 L712.8 660.3 L713.4 659.8 L714.0 660.2 L714.6 660.2 L715.1 658.8 L715.7 659.3 L716.3 658.9 L716.9 658.4 L717.5 657.1 L718.1 656.7 L718.7 656.3 L719.3 656.1 L719.9 655.9 L720.5 655.7 L721.1 656.2 L721.7 656.5 L722.3 656.2 L722.9 655.4 L723.5 655.5 L724.1 655.6 L724.7 654.9 L725.3 653.6 L725.9 654.3 L726.5 654.4 L727.1 653.7 L727.7 653.2 L728.3 652.2 L728.9 651.2 L729.5 652.0 L730.1 650.6 L730.7 651.1 L731.3 651.0 L731.9 649.6 L732.5 649.4 L733.1 649.3 L733.7 650.1 L734.3 649.7 L734.9 648.7 L735.5 648.6 L736.0 648.5 L736.6 649.6 L737.2 649.4 L737.8 648.3 L738.4 649.3 L739.0 648.7 L739.6 649.4 L740.2 648.7 L740.8 648.1 L741.4 648.3 L742.0 647.5 L742.6 647.2 L743.2 648.7 L743.8 648.1 L744.4 647.8 L745.0 648.3 L745.6 647.4 L746.2 647.4 L746.8 648.2 L747.5 648.3 L748.1 647.4 L748.7 647.7 L749.4 647.9 L750.0 648.0 L750.6 648.8 L751.2 648.4 L751.9 648.9 L752.5 649.2 L753.1 647.7 L753.7 648.8 L754.4 646.8 L755.0 646.4 L755.6 646.0 L756.2 646.0 L756.8 644.3 L757.5 644.7 L758.1 643.1 L758.7 642.4 L759.3 642.4 L760.0 642.3 L760.6 641.3 L761.2 641.9 L761.9 641.4 L762.5 641.0 L763.1 642.3 L763.7 641.1 L764.4 641.5 L765.0 641.5 L765.6 641.6 L766.2 640.8 L766.8 639.9 L767.4 639.9 L768.0 639.6 L768.6 639.7 L769.2 637.9 L769.8 638.4 L770.4 637.4 L771.0 637.0 L771.6 637.7 L772.2 636.7 L772.8 637.2 L773.4 637.8 L774.0 638.7 L774.6 639.5 L775.2 639.1 L775.8 639.7 L776.4 639.7 L777.0 639.4 L777.5 639.3 L778.1 639.4 L778.7 638.9 L779.3 638.8 L779.9 639.4 L780.4 639.9 L781.0 641.4 L781.5 641.5 L782.1 642.4 L782.7 643.1 L783.2 642.2 L783.8 643.3 L784.4 642.6 L784.9 642.8 L785.5 641.7 L786.1 639.1 L786.7 638.2 L787.2 638.2 L787.8 636.5 L788.4 636.1 L789.0 634.8 L789.5 635.6 L790.1 634.3 L790.7 634.9 L791.4 635.2 L792.0 634.0 L792.6 635.0 L793.2 635.0 L793.9 634.2 L794.5 635.6 L795.1 635.8 L795.8 634.6 L796.4 635.2 L797.0 636.5 L797.7 635.8 L798.3 636.3 L798.9 637.7 L799.5 637.8 L800.2 636.8 L800.8 637.9 L801.4 637.3 L801.9 637.1 L802.5 636.3 L803.1 635.6 L803.7 635.5 L804.2 635.9 L804.8 634.0 L805.4 634.7 L806.0 634.1 L806.5 632.8 L807.1 633.4 L807.7 633.2 L808.3 633.9 L808.8 633.8 L809.4 633.1 L810.0 635.0 L810.6 634.7 L811.2 635.2 L811.7 633.7 L812.3 634.1 L812.9 633.8 L813.5 635.3 L814.0 634.5 L814.6 634.4 L815.2 635.2 L815.8 634.6 L816.4 635.2 L817.1 634.6 L817.7 632.9 L818.3 632.2 L818.9 633.5 L819.5 632.3 L820.2 632.1 L820.8 630.3 L821.4 630.8 L822.0 629.9 L822.6 630.9 L823.2 630.4 L823.8 629.6 L824.4 631.1 L825.0 630.2 L825.5 630.6 L826.1 631.1 L826.7 629.9 L827.2 630.8 L827.8 630.1 L828.4 628.0 L829.0 626.6 L829.6 627.8 L830.2 626.4 L830.7 625.7 L831.3 625.6 L831.9 625.9 L832.5 624.5 L833.1 623.9 L833.7 623.5 L834.3 624.1 L834.9 623.4 L835.5 623.0 L836.1 622.9 L836.7 622.6 L837.3 622.7 L837.9 622.8 L838.5 622.6 L839.1 623.4 L839.7 622.7 L840.3 622.7 L840.9 623.6 L841.5 623.4 L842.1 624.2 L842.7 623.9 L843.3 625.4 L843.9 624.1 L844.4 622.8 L845.0 623.8 L845.5 622.7 L846.1 621.1 L846.7 621.1 L847.2 621.5 L847.8 619.7 L848.4 619.2 L849.1 621.0 L849.7 620.5 L850.3 620.9 L850.9 621.9 L851.6 621.3 L852.2 621.8 L852.8 620.9 L853.4 620.5 L854.0 620.4 L854.6 617.8 L855.2 618.2 L855.8 617.0 L856.4 615.9 L857.0 614.3 L857.6 613.7 L858.2 612.6 L858.8 611.2 L859.4 610.7 L860.0 609.9 L860.6 610.9 L861.2 609.0 L861.8 608.0 L862.4 607.2 L863.0 607.5 L863.6 610.6 L864.2 612.9 L864.9 614.4 L865.5 615.3 L866.1 617.4 L866.8 619.6 L867.4 622.3 L868.0 624.5 L868.6 621.3 L869.2 620.0 L869.8 617.3 L870.4 617.2 L871.0 613.7 L871.6 614.4 L872.1 613.2 L872.7 612.2 L873.2 613.4 L873.8 611.7 L874.4 611.4 L874.9 610.3 L875.5 611.1 L876.1 609.9 L876.6 609.2 L877.2 608.4 L877.8 606.7 L878.3 606.6 L878.9 604.4 L879.4 604.2 L880.0 603.9 L880.5 604.0 L881.1 605.8 L881.6 606.0 L882.2 607.0 L882.7 609.3 L883.4 611.4 L884.0 613.8 L884.7 617.6 L885.4 620.0 L886.0 620.3 L886.5 621.0 L887.1 621.0 L887.6 621.4 L888.2 621.9 L888.8 621.1 L889.3 621.2 L889.9 621.8 L890.5 621.9 L891.2 618.2 L891.8 618.6 L892.4 617.1 L893.0 614.1 L893.7 615.0 L894.3 612.8 L894.8 615.1 L895.4 615.7 L895.9 617.2 L896.5 618.7 L897.0 619.1 L897.6 616.9 L898.2 617.0 L898.8 615.8 L899.4 615.7 L900.0 614.6 L900.6 613.5 L901.2 611.7 L901.8 611.6 L902.4 609.3 L903.0 609.6 L903.6 609.6 L904.2 608.5 L904.8 608.0 L905.4 608.2 L906.0 608.6 L906.6 607.9 L907.2 609.4 L907.8 608.7 L908.4 608.8 L909.0 608.7 L909.6 608.4 L910.2 608.0 L910.9 606.6 L911.5 604.4 L912.1 605.6 L912.7 604.6 L913.4 603.0 L914.0 602.1 L914.6 602.0 L915.2 602.0 L915.8 600.6 L916.4 601.8 L917.0 600.6 L917.6 600.0 L918.2 600.7 L918.9 601.3 L919.5 603.8 L920.2 603.5 L920.8 606.2 L921.5 608.1 L922.1 608.0 L922.7 606.8 L923.3 605.3 L923.9 604.5 L924.5 603.9 L925.1 603.0 L925.7 601.4 L926.3 600.3 L926.9 597.5 L927.5 597.6 L928.1 596.6 L928.6 596.6 L929.2 597.5 L929.8 596.3 L930.3 596.6 L930.9 595.2 L931.4 595.0 L932.0 595.8 L932.6 596.7 L933.3 599.4 L934.0 601.0 L934.6 602.1 L935.2 601.7 L935.8 599.7 L936.4 599.4 L937.0 598.4 L937.6 597.5 L938.2 596.7 L938.8 596.0 L939.4 597.9 L940.0 596.5 L940.6 598.3 L941.2 598.4 L941.8 597.6 L942.4 595.6 L942.9 596.1 L943.5 596.4 L944.0 596.1 L944.6 594.1 L945.2 592.9 L945.7 592.1 L946.3 592.2 L946.9 593.5 L947.5 592.0 L948.2 593.2 L948.8 592.4 L949.4 593.6 L950.0 594.9 L950.6 593.2 L951.3 595.1 L951.9 594.7 L952.5 594.9 L953.1 595.5 L953.7 594.8 L954.3 593.4 L954.9 594.7 L955.5 593.4 L956.1 592.0 L956.7 591.6 L957.3 592.5 L957.9 592.2 L958.5 593.4 L959.1 594.3 L959.7 595.2 L960.3 597.1 L960.9 598.4 L961.5 600.3 L962.1 603.7 L962.7 603.7 L963.3 607.5 L963.8 607.4 L964.4 606.9 L964.9 604.4 L965.5 605.7 L966.0 603.9 L966.5 606.7 L967.1 609.4 L967.6 609.7 L968.2 612.1 L968.7 614.6 L969.3 612.8 L970.0 613.0 L970.6 610.3 L971.2 608.1 L971.8 606.7 L972.5 604.8 L973.1 603.9 L973.7 604.4 L974.2 606.5 L974.8 610.6 L975.4 610.9 L975.9 614.7 L976.5 614.5 L977.0 616.5 L977.6 619.1 L978.2 617.7 L978.7 615.3 L979.3 614.4 L979.9 614.7 L980.4 613.0 L981.0 611.3 L981.5 609.3 L982.1 607.5 L982.7 609.9 L983.3 611.2 L983.9 611.2 L984.5 612.9 L985.1 612.1 L985.7 614.6 L986.4 617.1 L987.0 618.1 L987.7 620.7 L988.4 621.8 L989.0 625.8 L989.5 628.3 L990.1 631.2 L990.7 636.1 L991.4 634.4 L992.1 629.0 L992.8 627.2 L993.4 627.4 L994.0 627.4 L994.6 628.1 L995.3 625.0 L996.0 623.9 L996.6 622.1 L997.3 618.2 L997.9 617.0 L998.5 617.4 L999.1 615.9 L999.7 616.0 L1000.3 614.9 L1000.9 614.6 L1001.5 614.1 L1002.1 614.4 L1002.7 614.8 L1003.3 616.8 L1003.9 616.1 L1004.5 616.4 L1005.1 614.2 L1005.7 615.0 L1006.3 613.9 L1006.9 610.9 L1007.5 608.7 L1008.1 608.4 L1008.7 607.4 L1009.3 607.0 L1009.9 607.4 L1010.5 606.6 L1011.0 606.8 L1011.6 606.6 L1012.2 607.2 L1012.8 607.8 L1013.4 606.6 L1014.0 606.9 L1014.6 605.8 L1015.2 605.5 L1015.8 605.5 L1016.4 604.8 L1017.0 604.4 L1017.6 603.4 L1018.2 603.6 L1018.8 603.9 L1019.4 606.2 L1020.0 605.0 L1020.6 607.1 L1021.2 605.8 L1021.8 604.9 L1022.4 604.3 L1023.0 601.1 L1023.6 600.0 L1024.2 599.4 L1024.8 598.5 L1025.4 598.5 L1026.0 598.4 L1026.6 599.3 L1027.2 598.8 L1027.8 597.6 L1028.4 598.0 L1029.0 594.8 L1029.6 594.1 L1030.2 595.4 L1030.7 595.3 L1031.3 593.3 L1031.9 593.0 L1032.5 590.5 L1033.1 591.3 L1033.7 590.5 L1034.3 591.5 L1034.9 590.7 L1035.5 590.3 L1036.1 590.2 L1036.7 587.7 L1037.3 586.8 L1037.9 586.4 L1038.5 586.9 L1039.1 587.1 L1039.7 587.7 L1040.3 588.4 L1040.9 588.0 L1041.5 588.0 L1042.1 587.8 L1042.7 590.7 L1043.4 592.0 L1044.0 594.4 L1044.7 595.0 L1045.3 598.5 L1045.9 598.9 L1046.5 597.1 L1047.2 598.5 L1047.8 597.4 L1048.4 596.7 L1049.0 597.5 L1049.5 598.3 L1050.1 600.0 L1050.7 602.5 L1051.2 604.0 L1051.8 603.6 L1052.3 604.9 L1052.9 607.5 L1053.6 604.9 L1054.2 602.3 L1054.8 599.1 L1055.5 596.7 L1056.1 594.8 L1056.7 594.8 L1057.2 591.9 L1057.8 591.6 L1058.4 591.0 L1059.0 590.0 L1059.6 590.8 L1060.2 589.4 L1060.9 589.6 L1061.5 587.9 L1062.1 586.7 L1062.8 586.3 L1063.4 587.8 L1064.0 586.0 L1064.6 586.3 L1065.2 584.9 L1065.9 583.8 L1066.5 584.8 L1067.1 585.0 L1067.8 584.0 L1068.4 583.2 L1069.0 583.6 L1069.6 583.9 L1070.2 584.4 L1070.9 582.4 L1071.5 581.8 L1072.1 582.4 L1072.8 582.5 L1073.4 583.0 L1074.0 582.4 L1074.6 584.4 L1075.2 589.1 L1075.8 591.9 L1076.4 594.1 L1077.0 597.0 L1077.6 594.7 L1078.2 595.6 L1078.8 592.2 L1079.4 592.4 L1080.0 590.0 L1080.6 590.0 L1081.1 590.9 L1081.7 593.4 L1082.3 592.8 L1082.9 595.6 L1083.4 595.1 L1084.0 596.0 L1084.6 593.8 L1085.2 592.7 L1085.9 592.0 L1086.5 591.5 L1087.1 591.1 L1087.8 587.4 L1088.4 586.9 L1089.0 586.0 L1089.6 585.1 L1090.2 587.0 L1090.9 584.7 L1091.5 584.3 L1092.1 584.2 L1092.8 585.0 L1093.4 586.2 L1094.0 585.0 L1094.6 587.0 L1095.2 587.3 L1095.8 588.9 L1096.4 589.5 L1097.0 588.5 L1097.6 588.9 L1098.2 591.9 L1098.8 592.1 L1099.4 590.8 L1100.0 593.0 L1100.6 592.2 L1101.1 590.1 L1101.7 588.8 L1102.3 587.4 L1102.9 585.6 L1103.4 583.8 L1104.0 584.0 L1104.6 583.4 L1105.2 583.6 L1105.8 585.2 L1106.4 583.0 L1107.0 584.0 L1107.6 584.5 L1108.2 581.4 L1108.9 580.9 L1109.5 581.5 L1110.1 580.6 L1110.8 578.5 L1111.4 576.5 L1112.0 577.0 L1112.6 576.6 L1113.2 576.1 L1113.8 577.4 L1114.3 575.0 L1114.9 575.2 L1115.5 576.5 L1116.1 573.6 L1116.7 574.5 L1117.2 575.4 L1117.8 574.9 L1118.4 572.5 L1119.0 573.6 L1119.6 572.5 L1120.1 572.8 L1120.7 575.4 L1121.3 573.7 L1121.9 575.3 L1122.4 575.9 L1123.0 575.0 L1123.6 573.7 L1124.2 572.7 L1124.8 573.9 L1125.3 572.0 L1125.9 570.1 L1126.5 570.6 L1127.1 568.6 L1127.7 567.7 L1128.2 566.0 L1128.8 567.4 L1129.4 567.1 L1130.0 565.0 L1130.6 564.9 L1131.2 565.3 L1131.8 562.1 L1132.4 562.2 L1133.0 562.4 L1133.6 563.4 L1134.2 562.9 L1134.8 560.7 L1135.4 559.8 L1136.0 560.0 L1136.6 558.9 L1137.2 558.3 L1137.8 558.8 L1138.4 555.7 L1139.0 556.7 L1139.6 555.7 L1140.2 555.1 L1140.8 554.1 L1141.4 552.8 L1142.0 551.6 L1142.6 552.1 L1143.1 553.2 L1143.7 554.4 L1144.3 556.7 L1144.9 555.6 L1145.4 557.0 L1146.0 559.0 L1146.6 557.0 L1147.2 552.6 L1147.8 549.3 L1148.4 546.4 L1149.0 545.0 L1149.6 544.2 L1150.1 542.6 L1150.7 543.7 L1151.3 542.5 L1151.9 541.9 L1152.4 538.8 L1153.0 538.6 L1153.6 541.8 L1154.1 546.4 L1154.7 552.1 L1155.3 557.2 L1155.9 560.9 L1156.4 564.7 L1157.0 570.0 L1157.5 566.1 L1158.1 563.0 L1158.6 559.0 L1159.2 565.8 L1159.8 572.2 L1160.4 578.8 L1161.0 584.0 L1161.7 591.8 L1162.3 597.5 L1163.0 606.0 L1163.7 608.0 L1164.3 607.4 L1165.0 609.0 L1165.7 601.5 L1166.3 593.3 L1167.0 586.0 L1167.6 589.0 L1168.2 589.6 L1168.8 592.0 L1169.4 595.0 L1170.0 590.4 L1170.6 586.3 L1171.2 584.7 L1171.8 579.9 L1172.4 575.3 L1173.0 572.0 L1173.7 568.9 L1174.3 568.0 L1174.9 563.8 L1175.6 561.0 L1176.2 562.4 L1176.8 566.4 L1177.4 568.2 L1178.0 570.0 L1178.6 569.5 L1179.2 564.8 L1179.8 563.9 L1180.4 563.0 L1181.0 560.0 L1181.6 559.2 L1182.2 557.6 L1182.8 553.2 L1183.4 552.2 L1184.0 551.0 L1184.6 549.1 L1185.1 548.6 L1185.7 550.3 L1186.3 548.4 L1186.9 548.7 L1187.4 546.3 L1188.0 546.0 L1188.6 546.5 L1189.2 544.6 L1189.9 543.4 L1190.5 544.3 L1191.1 544.2 L1191.8 541.1 L1192.4 541.9 L1193.0 541.0 L1193.6 539.0 L1194.2 535.4 L1194.8 533.4 L1195.4 530.3 L1196.0 529.0 L1196.7 531.8 L1197.3 535.6 L1198.0 540.0 L1198.6 537.7 L1199.2 535.3 L1199.8 531.3 L1200.4 528.1 L1201.0 527.0 L1201.7 528.8 L1202.3 532.2 L1203.0 534.0 L1203.6 529.9 L1204.2 527.0 L1204.8 523.5 L1205.4 522.1 L1206.0 518.0 L1206.6 515.7 L1207.2 511.9 L1207.8 509.6 L1208.4 508.1 L1209.0 506.0 L1209.7 507.5 L1210.3 509.1 L1211.0 510.0 L1211.6 510.6 L1212.2 512.6 L1212.8 516.0 L1213.4 516.9 L1214.0 519.0 L1214.6 515.5 L1215.1 512.7 L1215.7 511.8 L1216.3 507.0 L1216.9 504.9 L1217.4 501.4 L1218.0 499.0 L1218.7 502.1 L1219.3 506.8 L1220.0 509.0 L1220.6 508.1 L1221.2 503.8 L1221.9 501.0 L1222.5 500.2 L1223.1 496.2 L1223.8 493.3 L1224.4 493.6 L1225.0 490.0 L1225.6 486.6 L1226.2 484.6 L1226.8 480.2 L1227.4 478.5 L1228.0 474.0 L1228.6 471.0 L1229.2 477.7 L1229.8 485.0 L1230.4 494.4 L1231.0 502.0 L1231.7 500.9 L1232.3 500.2 L1232.9 496.3 L1233.6 496.0 L1234.2 498.7 L1234.7 500.3 L1235.3 503.0 L1235.9 504.3 L1236.4 507.0 L1237.0 510.0 L1237.6 506.5 L1238.2 504.1 L1238.8 498.0 L1239.4 495.6 L1240.0 492.0 L1240.6 491.1 L1241.1 489.7 L1241.7 485.5 L1242.3 483.5 L1242.9 484.0 L1243.4 482.3 L1244.0 479.0 L1244.6 480.7 L1245.2 481.3 L1245.8 485.7 L1246.4 485.9 L1247.0 488.0 L1247.6 489.6 L1248.2 489.2 L1248.8 490.2 L1249.4 488.6 L1250.0 490.0 L1250.7 495.9 L1251.3 499.2 L1252.0 505.0 L1252.5 496.0 L1253.1 488.7 L1253.6 479.0 L1254.2 481.5 L1254.8 481.0 L1255.4 482.7 L1256.0 485.0 L1256.6 484.3 L1257.1 484.2 L1257.7 483.4 L1258.3 482.2 L1258.9 482.1 L1259.4 483.1 L1260.0 482.0 L1260.6 481.0 L1261.1 476.3 L1261.7 475.8 L1262.3 474.2 L1262.9 469.9 L1263.4 470.2 L1264.0 467.0 L1264.6 466.7 L1265.2 468.9 L1265.8 469.6 L1266.4 470.6 L1267.0 471.0 L1267.6 468.6 L1268.2 467.2 L1268.8 465.8 L1269.4 463.6 L1270.0 462.0 L1270.6 462.2 L1271.1 461.3 L1271.7 461.0 L1272.3 459.4 L1272.9 460.9 L1273.4 460.3 L1274.0 460.0 L1274.6 460.2 L1275.2 462.8 L1275.8 463.8 L1276.4 463.9 L1277.0 465.0 L1277.5 460.0 L1278.1 456.9 L1278.6 453.0 L1279.2 453.8 L1279.8 455.9 L1280.4 458.8 L1281.0 461.0 L1281.6 456.3 L1282.2 453.9 L1282.8 450.6 L1283.4 445.7 L1284.0 443.6 L1284.7 447.4 L1285.3 449.0 L1285.9 454.4 L1286.6 457.0 L1287.3 453.5 L1287.9 448.4 L1288.6 444.0 L1289.2 441.7 L1289.9 442.0 L1290.5 441.0 L1291 441 L1291 722.3 L588 722.3 Z" fill="rgba(0,159,223,0.25)"/><path d="M588.2 679.3 L588.8 678.8 L589.3 678.3 L589.9 678.7 L590.4 678.2 L591.0 677.3 L591.6 677.6 L592.2 677.1 L592.8 676.4 L593.3 676.7 L593.9 675.8 L594.5 676.0 L595.1 675.2 L595.7 675.5 L596.3 674.7 L596.9 674.9 L597.5 675.2 L598.1 674.0 L598.7 673.9 L599.3 674.2 L599.9 674.4 L600.5 673.6 L601.1 673.1 L601.7 673.7 L602.3 672.1 L602.9 672.5 L603.5 672.7 L604.1 671.7 L604.7 671.2 L605.3 671.0 L605.9 671.0 L606.5 671.4 L607.1 670.3 L607.7 670.6 L608.3 670.2 L608.9 670.3 L609.5 669.8 L610.1 670.0 L610.7 669.3 L611.3 669.2 L611.9 669.2 L612.5 669.7 L613.1 669.3 L613.7 669.3 L614.3 669.7 L615.0 671.0 L615.6 671.5 L616.2 672.0 L616.8 673.6 L617.5 674.2 L618.1 674.6 L618.7 674.3 L619.3 674.8 L619.9 674.9 L620.5 675.4 L621.1 675.3 L621.7 674.8 L622.3 675.7 L622.9 674.7 L623.5 675.2 L624.1 675.7 L624.7 675.0 L625.3 675.5 L625.9 674.6 L626.5 672.9 L627.1 673.1 L627.7 672.4 L628.3 671.2 L628.9 670.2 L629.5 670.8 L630.1 670.2 L630.7 670.8 L631.3 670.7 L631.9 670.8 L632.5 670.7 L633.1 671.3 L633.7 671.6 L634.3 671.1 L634.9 671.4 L635.6 672.1 L636.2 671.6 L636.8 672.9 L637.4 673.2 L638.1 674.1 L638.7 673.7 L639.5 676.5 L640.2 678.2 L640.9 676.6 L641.5 675.6 L642.2 675.0 L642.8 672.5 L643.5 672.2 L644.1 671.1 L644.7 670.1 L645.4 669.5 L646.0 669.0 L646.6 669.8 L647.2 668.2 L647.9 668.0 L648.5 667.8 L649.1 668.1 L649.8 666.3 L650.4 666.6 L651.0 666.2 L651.6 666.0 L652.3 666.3 L652.9 665.8 L653.5 665.6 L654.1 664.3 L654.7 664.2 L655.4 663.8 L656.0 664.3 L656.6 663.4 L657.2 664.0 L657.8 663.0 L658.4 663.0 L659.0 663.1 L659.6 663.1 L660.2 663.4 L660.8 663.6 L661.4 663.2 L662.0 662.8 L662.6 663.4 L663.2 663.3 L663.8 663.5 L664.4 663.9 L664.9 664.7 L665.5 664.6 L666.0 664.6 L666.6 665.1 L667.2 665.4 L667.7 664.7 L668.3 665.7 L668.9 666.0 L669.4 665.5 L670.0 665.4 L670.6 664.9 L671.2 663.9 L671.7 663.6 L672.3 662.7 L672.9 663.3 L673.5 662.0 L674.0 661.7 L674.6 662.1 L675.2 661.7 L675.8 661.6 L676.5 661.8 L677.1 661.3 L677.7 661.2 L678.3 661.4 L678.9 661.3 L679.6 661.6 L680.2 661.1 L680.8 661.7 L681.4 662.4 L682.0 662.2 L682.6 661.6 L683.2 661.9 L683.8 662.2 L684.4 662.4 L685.0 662.1 L685.6 663.4 L686.2 663.0 L686.8 664.4 L687.3 664.0 L687.9 664.5 L688.5 664.3 L689.0 664.9 L689.6 665.8 L690.1 666.2 L690.7 667.1 L691.3 667.2 L691.9 665.6 L692.5 664.9 L693.1 666.1 L693.7 664.9 L694.3 663.7 L694.9 664.0 L695.5 662.6 L696.1 663.0 L696.7 663.3 L697.4 664.2 L698.0 664.3 L698.6 664.2 L699.2 663.7 L699.9 664.1 L700.5 664.0 L701.1 664.8 L701.7 664.8 L702.4 663.9 L703.0 663.8 L703.6 662.5 L704.3 661.8 L704.9 662.4 L705.5 662.2 L706.2 661.5 L706.8 660.3 L707.4 660.9 L708.0 661.0 L708.6 661.0 L709.2 660.3 L709.8 660.8 L710.4 660.7 L711.0 660.3 L711.6 660.4 L712.2 661.2 L712.8 660.3 L713.4 659.8 L714.0 660.2 L714.6 660.2 L715.1 658.8 L715.7 659.3 L716.3 658.9 L716.9 658.4 L717.5 657.1 L718.1 656.7 L718.7 656.3 L719.3 656.1 L719.9 655.9 L720.5 655.7 L721.1 656.2 L721.7 656.5 L722.3 656.2 L722.9 655.4 L723.5 655.5 L724.1 655.6 L724.7 654.9 L725.3 653.6 L725.9 654.3 L726.5 654.4 L727.1 653.7 L727.7 653.2 L728.3 652.2 L728.9 651.2 L729.5 652.0 L730.1 650.6 L730.7 651.1 L731.3 651.0 L731.9 649.6 L732.5 649.4 L733.1 649.3 L733.7 650.1 L734.3 649.7 L734.9 648.7 L735.5 648.6 L736.0 648.5 L736.6 649.6 L737.2 649.4 L737.8 648.3 L738.4 649.3 L739.0 648.7 L739.6 649.4 L740.2 648.7 L740.8 648.1 L741.4 648.3 L742.0 647.5 L742.6 647.2 L743.2 648.7 L743.8 648.1 L744.4 647.8 L745.0 648.3 L745.6 647.4 L746.2 647.4 L746.8 648.2 L747.5 648.3 L748.1 647.4 L748.7 647.7 L749.4 647.9 L750.0 648.0 L750.6 648.8 L751.2 648.4 L751.9 648.9 L752.5 649.2 L753.1 647.7 L753.7 648.8 L754.4 646.8 L755.0 646.4 L755.6 646.0 L756.2 646.0 L756.8 644.3 L757.5 644.7 L758.1 643.1 L758.7 642.4 L759.3 642.4 L760.0 642.3 L760.6 641.3 L761.2 641.9 L761.9 641.4 L762.5 641.0 L763.1 642.3 L763.7 641.1 L764.4 641.5 L765.0 641.5 L765.6 641.6 L766.2 640.8 L766.8 639.9 L767.4 639.9 L768.0 639.6 L768.6 639.7 L769.2 637.9 L769.8 638.4 L770.4 637.4 L771.0 637.0 L771.6 637.7 L772.2 636.7 L772.8 637.2 L773.4 637.8 L774.0 638.7 L774.6 639.5 L775.2 639.1 L775.8 639.7 L776.4 639.7 L777.0 639.4 L777.5 639.3 L778.1 639.4 L778.7 638.9 L779.3 638.8 L779.9 639.4 L780.4 639.9 L781.0 641.4 L781.5 641.5 L782.1 642.4 L782.7 643.1 L783.2 642.2 L783.8 643.3 L784.4 642.6 L784.9 642.8 L785.5 641.7 L786.1 639.1 L786.7 638.2 L787.2 638.2 L787.8 636.5 L788.4 636.1 L789.0 634.8 L789.5 635.6 L790.1 634.3 L790.7 634.9 L791.4 635.2 L792.0 634.0 L792.6 635.0 L793.2 635.0 L793.9 634.2 L794.5 635.6 L795.1 635.8 L795.8 634.6 L796.4 635.2 L797.0 636.5 L797.7 635.8 L798.3 636.3 L798.9 637.7 L799.5 637.8 L800.2 636.8 L800.8 637.9 L801.4 637.3 L801.9 637.1 L802.5 636.3 L803.1 635.6 L803.7 635.5 L804.2 635.9 L804.8 634.0 L805.4 634.7 L806.0 634.1 L806.5 632.8 L807.1 633.4 L807.7 633.2 L808.3 633.9 L808.8 633.8 L809.4 633.1 L810.0 635.0 L810.6 634.7 L811.2 635.2 L811.7 633.7 L812.3 634.1 L812.9 633.8 L813.5 635.3 L814.0 634.5 L814.6 634.4 L815.2 635.2 L815.8 634.6 L816.4 635.2 L817.1 634.6 L817.7 632.9 L818.3 632.2 L818.9 633.5 L819.5 632.3 L820.2 632.1 L820.8 630.3 L821.4 630.8 L822.0 629.9 L822.6 630.9 L823.2 630.4 L823.8 629.6 L824.4 631.1 L825.0 630.2 L825.5 630.6 L826.1 631.1 L826.7 629.9 L827.2 630.8 L827.8 630.1 L828.4 628.0 L829.0 626.6 L829.6 627.8 L830.2 626.4 L830.7 625.7 L831.3 625.6 L831.9 625.9 L832.5 624.5 L833.1 623.9 L833.7 623.5 L834.3 624.1 L834.9 623.4 L835.5 623.0 L836.1 622.9 L836.7 622.6 L837.3 622.7 L837.9 622.8 L838.5 622.6 L839.1 623.4 L839.7 622.7 L840.3 622.7 L840.9 623.6 L841.5 623.4 L842.1 624.2 L842.7 623.9 L843.3 625.4 L843.9 624.1 L844.4 622.8 L845.0 623.8 L845.5 622.7 L846.1 621.1 L846.7 621.1 L847.2 621.5 L847.8 619.7 L848.4 619.2 L849.1 621.0 L849.7 620.5 L850.3 620.9 L850.9 621.9 L851.6 621.3 L852.2 621.8 L852.8 620.9 L853.4 620.5 L854.0 620.4 L854.6 617.8 L855.2 618.2 L855.8 617.0 L856.4 615.9 L857.0 614.3 L857.6 613.7 L858.2 612.6 L858.8 611.2 L859.4 610.7 L860.0 609.9 L860.6 610.9 L861.2 609.0 L861.8 608.0 L862.4 607.2 L863.0 607.5 L863.6 610.6 L864.2 612.9 L864.9 614.4 L865.5 615.3 L866.1 617.4 L866.8 619.6 L867.4 622.3 L868.0 624.5 L868.6 621.3 L869.2 620.0 L869.8 617.3 L870.4 617.2 L871.0 613.7 L871.6 614.4 L872.1 613.2 L872.7 612.2 L873.2 613.4 L873.8 611.7 L874.4 611.4 L874.9 610.3 L875.5 611.1 L876.1 609.9 L876.6 609.2 L877.2 608.4 L877.8 606.7 L878.3 606.6 L878.9 604.4 L879.4 604.2 L880.0 603.9 L880.5 604.0 L881.1 605.8 L881.6 606.0 L882.2 607.0 L882.7 609.3 L883.4 611.4 L884.0 613.8 L884.7 617.6 L885.4 620.0 L886.0 620.3 L886.5 621.0 L887.1 621.0 L887.6 621.4 L888.2 621.9 L888.8 621.1 L889.3 621.2 L889.9 621.8 L890.5 621.9 L891.2 618.2 L891.8 618.6 L892.4 617.1 L893.0 614.1 L893.7 615.0 L894.3 612.8 L894.8 615.1 L895.4 615.7 L895.9 617.2 L896.5 618.7 L897.0 619.1 L897.6 616.9 L898.2 617.0 L898.8 615.8 L899.4 615.7 L900.0 614.6 L900.6 613.5 L901.2 611.7 L901.8 611.6 L902.4 609.3 L903.0 609.6 L903.6 609.6 L904.2 608.5 L904.8 608.0 L905.4 608.2 L906.0 608.6 L906.6 607.9 L907.2 609.4 L907.8 608.7 L908.4 608.8 L909.0 608.7 L909.6 608.4 L910.2 608.0 L910.9 606.6 L911.5 604.4 L912.1 605.6 L912.7 604.6 L913.4 603.0 L914.0 602.1 L914.6 602.0 L915.2 602.0 L915.8 600.6 L916.4 601.8 L917.0 600.6 L917.6 600.0 L918.2 600.7 L918.9 601.3 L919.5 603.8 L920.2 603.5 L920.8 606.2 L921.5 608.1 L922.1 608.0 L922.7 606.8 L923.3 605.3 L923.9 604.5 L924.5 603.9 L925.1 603.0 L925.7 601.4 L926.3 600.3 L926.9 597.5 L927.5 597.6 L928.1 596.6 L928.6 596.6 L929.2 597.5 L929.8 596.3 L930.3 596.6 L930.9 595.2 L931.4 595.0 L932.0 595.8 L932.6 596.7 L933.3 599.4 L934.0 601.0 L934.6 602.1 L935.2 601.7 L935.8 599.7 L936.4 599.4 L937.0 598.4 L937.6 597.5 L938.2 596.7 L938.8 596.0 L939.4 597.9 L940.0 596.5 L940.6 598.3 L941.2 598.4 L941.8 597.6 L942.4 595.6 L942.9 596.1 L943.5 596.4 L944.0 596.1 L944.6 594.1 L945.2 592.9 L945.7 592.1 L946.3 592.2 L946.9 593.5 L947.5 592.0 L948.2 593.2 L948.8 592.4 L949.4 593.6 L950.0 594.9 L950.6 593.2 L951.3 595.1 L951.9 594.7 L952.5 594.9 L953.1 595.5 L953.7 594.8 L954.3 593.4 L954.9 594.7 L955.5 593.4 L956.1 592.0 L956.7 591.6 L957.3 592.5 L957.9 592.2 L958.5 593.4 L959.1 594.3 L959.7 595.2 L960.3 597.1 L960.9 598.4 L961.5 600.3 L962.1 603.7 L962.7 603.7 L963.3 607.5 L963.8 607.4 L964.4 606.9 L964.9 604.4 L965.5 605.7 L966.0 603.9 L966.5 606.7 L967.1 609.4 L967.6 609.7 L968.2 612.1 L968.7 614.6 L969.3 612.8 L970.0 613.0 L970.6 610.3 L971.2 608.1 L971.8 606.7 L972.5 604.8 L973.1 603.9 L973.7 604.4 L974.2 606.5 L974.8 610.6 L975.4 610.9 L975.9 614.7 L976.5 614.5 L977.0 616.5 L977.6 619.1 L978.2 617.7 L978.7 615.3 L979.3 614.4 L979.9 614.7 L980.4 613.0 L981.0 611.3 L981.5 609.3 L982.1 607.5 L982.7 609.9 L983.3 611.2 L983.9 611.2 L984.5 612.9 L985.1 612.1 L985.7 614.6 L986.4 617.1 L987.0 618.1 L987.7 620.7 L988.4 621.8 L989.0 625.8 L989.5 628.3 L990.1 631.2 L990.7 636.1 L991.4 634.4 L992.1 629.0 L992.8 627.2 L993.4 627.4 L994.0 627.4 L994.6 628.1 L995.3 625.0 L996.0 623.9 L996.6 622.1 L997.3 618.2 L997.9 617.0 L998.5 617.4 L999.1 615.9 L999.7 616.0 L1000.3 614.9 L1000.9 614.6 L1001.5 614.1 L1002.1 614.4 L1002.7 614.8 L1003.3 616.8 L1003.9 616.1 L1004.5 616.4 L1005.1 614.2 L1005.7 615.0 L1006.3 613.9 L1006.9 610.9 L1007.5 608.7 L1008.1 608.4 L1008.7 607.4 L1009.3 607.0 L1009.9 607.4 L1010.5 606.6 L1011.0 606.8 L1011.6 606.6 L1012.2 607.2 L1012.8 607.8 L1013.4 606.6 L1014.0 606.9 L1014.6 605.8 L1015.2 605.5 L1015.8 605.5 L1016.4 604.8 L1017.0 604.4 L1017.6 603.4 L1018.2 603.6 L1018.8 603.9 L1019.4 606.2 L1020.0 605.0 L1020.6 607.1 L1021.2 605.8 L1021.8 604.9 L1022.4 604.3 L1023.0 601.1 L1023.6 600.0 L1024.2 599.4 L1024.8 598.5 L1025.4 598.5 L1026.0 598.4 L1026.6 599.3 L1027.2 598.8 L1027.8 597.6 L1028.4 598.0 L1029.0 594.8 L1029.6 594.1 L1030.2 595.4 L1030.7 595.3 L1031.3 593.3 L1031.9 593.0 L1032.5 590.5 L1033.1 591.3 L1033.7 590.5 L1034.3 591.5 L1034.9 590.7 L1035.5 590.3 L1036.1 590.2 L1036.7 587.7 L1037.3 586.8 L1037.9 586.4 L1038.5 586.9 L1039.1 587.1 L1039.7 587.7 L1040.3 588.4 L1040.9 588.0 L1041.5 588.0 L1042.1 587.8 L1042.7 590.7 L1043.4 592.0 L1044.0 594.4 L1044.7 595.0 L1045.3 598.5 L1045.9 598.9 L1046.5 597.1 L1047.2 598.5 L1047.8 597.4 L1048.4 596.7 L1049.0 597.5 L1049.5 598.3 L1050.1 600.0 L1050.7 602.5 L1051.2 604.0 L1051.8 603.6 L1052.3 604.9 L1052.9 607.5 L1053.6 604.9 L1054.2 602.3 L1054.8 599.1 L1055.5 596.7 L1056.1 594.8 L1056.7 594.8 L1057.2 591.9 L1057.8 591.6 L1058.4 591.0 L1059.0 590.0 L1059.6 590.8 L1060.2 589.4 L1060.9 589.6 L1061.5 587.9 L1062.1 586.7 L1062.8 586.3 L1063.4 587.8 L1064.0 586.0 L1064.6 586.3 L1065.2 584.9 L1065.9 583.8 L1066.5 584.8 L1067.1 585.0 L1067.8 584.0 L1068.4 583.2 L1069.0 583.6 L1069.6 583.9 L1070.2 584.4 L1070.9 582.4 L1071.5 581.8 L1072.1 582.4 L1072.8 582.5 L1073.4 583.0 L1074.0 582.4 L1074.6 584.4 L1075.2 589.1 L1075.8 591.9 L1076.4 594.1 L1077.0 597.0 L1077.6 594.7 L1078.2 595.6 L1078.8 592.2 L1079.4 592.4 L1080.0 590.0 L1080.6 590.0 L1081.1 590.9 L1081.7 593.4 L1082.3 592.8 L1082.9 595.6 L1083.4 595.1 L1084.0 596.0 L1084.6 593.8 L1085.2 592.7 L1085.9 592.0 L1086.5 591.5 L1087.1 591.1 L1087.8 587.4 L1088.4 586.9 L1089.0 586.0 L1089.6 585.1 L1090.2 587.0 L1090.9 584.7 L1091.5 584.3 L1092.1 584.2 L1092.8 585.0 L1093.4 586.2 L1094.0 585.0 L1094.6 587.0 L1095.2 587.3 L1095.8 588.9 L1096.4 589.5 L1097.0 588.5 L1097.6 588.9 L1098.2 591.9 L1098.8 592.1 L1099.4 590.8 L1100.0 593.0 L1100.6 592.2 L1101.1 590.1 L1101.7 588.8 L1102.3 587.4 L1102.9 585.6 L1103.4 583.8 L1104.0 584.0 L1104.6 583.4 L1105.2 583.6 L1105.8 585.2 L1106.4 583.0 L1107.0 584.0 L1107.6 584.5 L1108.2 581.4 L1108.9 580.9 L1109.5 581.5 L1110.1 580.6 L1110.8 578.5 L1111.4 576.5 L1112.0 577.0 L1112.6 576.6 L1113.2 576.1 L1113.8 577.4 L1114.3 575.0 L1114.9 575.2 L1115.5 576.5 L1116.1 573.6 L1116.7 574.5 L1117.2 575.4 L1117.8 574.9 L1118.4 572.5 L1119.0 573.6 L1119.6 572.5 L1120.1 572.8 L1120.7 575.4 L1121.3 573.7 L1121.9 575.3 L1122.4 575.9 L1123.0 575.0 L1123.6 573.7 L1124.2 572.7 L1124.8 573.9 L1125.3 572.0 L1125.9 570.1 L1126.5 570.6 L1127.1 568.6 L1127.7 567.7 L1128.2 566.0 L1128.8 567.4 L1129.4 567.1 L1130.0 565.0 L1130.6 564.9 L1131.2 565.3 L1131.8 562.1 L1132.4 562.2 L1133.0 562.4 L1133.6 563.4 L1134.2 562.9 L1134.8 560.7 L1135.4 559.8 L1136.0 560.0 L1136.6 558.9 L1137.2 558.3 L1137.8 558.8 L1138.4 555.7 L1139.0 556.7 L1139.6 555.7 L1140.2 555.1 L1140.8 554.1 L1141.4 552.8 L1142.0 551.6 L1142.6 552.1 L1143.1 553.2 L1143.7 554.4 L1144.3 556.7 L1144.9 555.6 L1145.4 557.0 L1146.0 559.0 L1146.6 557.0 L1147.2 552.6 L1147.8 549.3 L1148.4 546.4 L1149.0 545.0 L1149.6 544.2 L1150.1 542.6 L1150.7 543.7 L1151.3 542.5 L1151.9 541.9 L1152.4 538.8 L1153.0 538.6 L1153.6 541.8 L1154.1 546.4 L1154.7 552.1 L1155.3 557.2 L1155.9 560.9 L1156.4 564.7 L1157.0 570.0 L1157.5 566.1 L1158.1 563.0 L1158.6 559.0 L1159.2 565.8 L1159.8 572.2 L1160.4 578.8 L1161.0 584.0 L1161.7 591.8 L1162.3 597.5 L1163.0 606.0 L1163.7 608.0 L1164.3 607.4 L1165.0 609.0 L1165.7 601.5 L1166.3 593.3 L1167.0 586.0 L1167.6 589.0 L1168.2 589.6 L1168.8 592.0 L1169.4 595.0 L1170.0 590.4 L1170.6 586.3 L1171.2 584.7 L1171.8 579.9 L1172.4 575.3 L1173.0 572.0 L1173.7 568.9 L1174.3 568.0 L1174.9 563.8 L1175.6 561.0 L1176.2 562.4 L1176.8 566.4 L1177.4 568.2 L1178.0 570.0 L1178.6 569.5 L1179.2 564.8 L1179.8 563.9 L1180.4 563.0 L1181.0 560.0 L1181.6 559.2 L1182.2 557.6 L1182.8 553.2 L1183.4 552.2 L1184.0 551.0 L1184.6 549.1 L1185.1 548.6 L1185.7 550.3 L1186.3 548.4 L1186.9 548.7 L1187.4 546.3 L1188.0 546.0 L1188.6 546.5 L1189.2 544.6 L1189.9 543.4 L1190.5 544.3 L1191.1 544.2 L1191.8 541.1 L1192.4 541.9 L1193.0 541.0 L1193.6 539.0 L1194.2 535.4 L1194.8 533.4 L1195.4 530.3 L1196.0 529.0 L1196.7 531.8 L1197.3 535.6 L1198.0 540.0 L1198.6 537.7 L1199.2 535.3 L1199.8 531.3 L1200.4 528.1 L1201.0 527.0 L1201.7 528.8 L1202.3 532.2 L1203.0 534.0 L1203.6 529.9 L1204.2 527.0 L1204.8 523.5 L1205.4 522.1 L1206.0 518.0 L1206.6 515.7 L1207.2 511.9 L1207.8 509.6 L1208.4 508.1 L1209.0 506.0 L1209.7 507.5 L1210.3 509.1 L1211.0 510.0 L1211.6 510.6 L1212.2 512.6 L1212.8 516.0 L1213.4 516.9 L1214.0 519.0 L1214.6 515.5 L1215.1 512.7 L1215.7 511.8 L1216.3 507.0 L1216.9 504.9 L1217.4 501.4 L1218.0 499.0 L1218.7 502.1 L1219.3 506.8 L1220.0 509.0 L1220.6 508.1 L1221.2 503.8 L1221.9 501.0 L1222.5 500.2 L1223.1 496.2 L1223.8 493.3 L1224.4 493.6 L1225.0 490.0 L1225.6 486.6 L1226.2 484.6 L1226.8 480.2 L1227.4 478.5 L1228.0 474.0 L1228.6 471.0 L1229.2 477.7 L1229.8 485.0 L1230.4 494.4 L1231.0 502.0 L1231.7 500.9 L1232.3 500.2 L1232.9 496.3 L1233.6 496.0 L1234.2 498.7 L1234.7 500.3 L1235.3 503.0 L1235.9 504.3 L1236.4 507.0 L1237.0 510.0 L1237.6 506.5 L1238.2 504.1 L1238.8 498.0 L1239.4 495.6 L1240.0 492.0 L1240.6 491.1 L1241.1 489.7 L1241.7 485.5 L1242.3 483.5 L1242.9 484.0 L1243.4 482.3 L1244.0 479.0 L1244.6 480.7 L1245.2 481.3 L1245.8 485.7 L1246.4 485.9 L1247.0 488.0 L1247.6 489.6 L1248.2 489.2 L1248.8 490.2 L1249.4 488.6 L1250.0 490.0 L1250.7 495.9 L1251.3 499.2 L1252.0 505.0 L1252.5 496.0 L1253.1 488.7 L1253.6 479.0 L1254.2 481.5 L1254.8 481.0 L1255.4 482.7 L1256.0 485.0 L1256.6 484.3 L1257.1 484.2 L1257.7 483.4 L1258.3 482.2 L1258.9 482.1 L1259.4 483.1 L1260.0 482.0 L1260.6 481.0 L1261.1 476.3 L1261.7 475.8 L1262.3 474.2 L1262.9 469.9 L1263.4 470.2 L1264.0 467.0 L1264.6 466.7 L1265.2 468.9 L1265.8 469.6 L1266.4 470.6 L1267.0 471.0 L1267.6 468.6 L1268.2 467.2 L1268.8 465.8 L1269.4 463.6 L1270.0 462.0 L1270.6 462.2 L1271.1 461.3 L1271.7 461.0 L1272.3 459.4 L1272.9 460.9 L1273.4 460.3 L1274.0 460.0 L1274.6 460.2 L1275.2 462.8 L1275.8 463.8 L1276.4 463.9 L1277.0 465.0 L1277.5 460.0 L1278.1 456.9 L1278.6 453.0 L1279.2 453.8 L1279.8 455.9 L1280.4 458.8 L1281.0 461.0 L1281.6 456.3 L1282.2 453.9 L1282.8 450.6 L1283.4 445.7 L1284.0 443.6 L1284.7 447.4 L1285.3 449.0 L1285.9 454.4 L1286.6 457.0 L1287.3 453.5 L1287.9 448.4 L1288.6 444.0 L1289.2 441.7 L1289.9 442.0 L1290.5 441.0" fill="none" stroke="#0d9bda" stroke-width="2.5" stroke-linejoin="round" stroke-linecap="round"/><path d="M588 438.5H1291" stroke="#4caf50" stroke-width="1"/><path d="M588 683.5H1291" stroke="#c4122f" stroke-width="1.2"/><circle cx="588" cy="683.5" r="5" fill="#f00" stroke="#fff" stroke-width="2"/><circle cx="1290" cy="438.5" r="4.6" fill="#0a6b35" stroke="#fff" stroke-width="1.6"/><rect x="1292.5" y="431.5" width="70" height="14" rx="7" fill="#0a7a3c"/><rect x="1292" y="676.5" width="50.5" height="14" rx="7" fill="#f0141e"/></g><text x="1296.3" y="442.3" font-size="11" fill="#fff" font-family="Liberation Sans, sans-serif">13 694,51</text><text x="1295.8" y="687.4" font-size="11" fill="#fff" font-family="Liberation Sans, sans-serif">4 019,19</text><text x="1341.2" y="470.5" font-size="11" fill="#111" text-anchor="end" font-family="Liberation Sans, sans-serif">12500,000</text><text x="1341.2" y="534.5" font-size="11" fill="#111" text-anchor="end" font-family="Liberation Sans, sans-serif">10000,000</text><text x="1341.2" y="598" font-size="11" fill="#111" text-anchor="end" font-family="Liberation Sans, sans-serif">7500,000</text><text x="1341.2" y="662" font-size="11" fill="#111" text-anchor="end" font-family="Liberation Sans, sans-serif">5000,000</text><text x="1341.2" y="725" font-size="11" fill="#111" text-anchor="end" font-family="Liberation Sans, sans-serif">2500,000</text><text x="641.3" y="737" font-size="11" fill="#111" text-anchor="middle" font-family="Liberation Sans, sans-serif">juil. '16</text><text x="712.6" y="737" font-size="11" fill="#111" text-anchor="middle" font-family="Liberation Sans, sans-serif">janv. '17</text><text x="781.8" y="737" font-size="11" fill="#111" text-anchor="middle" font-family="Liberation Sans, sans-serif">juil. '17</text><text x="853" y="737" font-size="11" fill="#111" text-anchor="middle" font-family="Liberation Sans, sans-serif">janv. '18</text><text x="923" y="737" font-size="11" fill="#111" text-anchor="middle" font-family="Liberation Sans, sans-serif">juil. '18</text><text x="993.7" y="737" font-size="11" fill="#111" text-anchor="middle" font-family="Liberation Sans, sans-serif">janv. '19</text><text x="1063.7" y="737" font-size="11" fill="#111" text-anchor="middle" font-family="Liberation Sans, sans-serif">juil. '19</text><text x="1134.2" y="737" font-size="11" fill="#111" text-anchor="middle" font-family="Liberation Sans, sans-serif">janv. '20</text><text x="1204.6" y="737" font-size="11" fill="#111" text-anchor="middle" font-family="Liberation Sans, sans-serif">juil. '20</text><text x="1275.5" y="737" font-size="11" fill="#111" text-anchor="middle" font-family="Liberation Sans, sans-serif">janv. '21</text><text x="1336" y="748.3" font-size="10" fill="#999" text-anchor="end" font-family="Liberation Sans, sans-serif">vwdgroup:</text><path d="M925.5 552.5H1026.5Q1028.5 552.5 1028.5 554.5V593Q1028.5 595 1026.5 595H982L975.5 601.5L969 595H925.5Q923.5 595 923.5 593V554.5Q923.5 552.5 925.5 552.5Z" fill="rgba(0,0,0,0.10)" transform="translate(1,1.4)"/><path d="M925.5 552.5H1026.5Q1028.5 552.5 1028.5 554.5V593Q1028.5 595 1026.5 595H982L975.5 601.5L969 595H925.5Q923.5 595 923.5 593V554.5Q923.5 552.5 925.5 552.5Z" fill="rgba(252,252,252,0.88)" stroke="#d1493a" stroke-width="1"/><text x="930.7" y="571.6" font-size="10" fill="#333" font-family="Liberation Sans, sans-serif">jeudi 15 nov. 2018</text><circle cx="934.4" cy="583.3" r="2.5" fill="#d1493a"/><text x="941.8" y="587" font-size="12" fill="#333" font-family="Liberation Sans, sans-serif">NDX: <tspan font-weight="700">6 892,94</tspan></text></svg>
<div class="a" style="left:571px;top:752px;width:790px;height:1px;background:#e6e7e9"></div>
<div class="t b" style="left:586px;top:767px;font-size:15px;color:#000;transform:scaleX(0.914)">YTD</div>
<div class="t b" style="left:631.4px;top:767px;font-size:15px;color:#000;transform:scaleX(0.94)">1 J</div>
<div class="t b" style="left:671.2px;top:767px;font-size:15px;color:#000;transform:scaleX(0.888)">1 S</div>
<div class="t b" style="left:708.8px;top:767px;font-size:15px;color:#000;transform:scaleX(0.971)">1 M</div>
<div class="t b" style="left:748.9px;top:767px;font-size:15px;color:#000;transform:scaleX(0.959)">3 M</div>
<div class="t b" style="left:789.1px;top:767px;font-size:15px;color:#000;transform:scaleX(0.959)">6 M</div>
<div class="t b" style="left:830.2px;top:767px;font-size:15px;color:#000;transform:scaleX(0.935)">1 A</div>
<div class="t b" style="left:870.4px;top:767px;font-size:15px;color:#000;transform:scaleX(0.917)">3 A</div>
<div class="t b" style="left:911px;top:767px;font-size:15px;color:#009fdf;transform:scaleX(0.9)">5 A</div>
<div class="t b" style="left:948.6px;top:767px;font-size:15px;color:#000;transform:scaleX(0.856)">TOUT</div>
<div class="a" style="left:909px;top:797px;width:24px;height:4px;background:#009fdf"></div>
<svg class="a" style="left:1043px;top:769.5px" width="16.5" height="16.5" viewBox="0 0 20 20"><path d="M8.6 0.8h2.8l.5 2.3 1.2.5 2-1.3 2 2-1.3 2 .5 1.2 2.3.5v2.8l-2.3.5-.5 1.2 1.3 2-2 2-2-1.3-1.2.5-.5 2.3H8.600000000000001l-.5-2.3-1.2-.5-2 1.3-2-2 1.3-2-.5-1.2L1.4 11.400000000000002V8.600000000000001l2.3-.5.5-1.2-1.3-2 2-2 2 1.3 1.2-.5z" fill="none" stroke="#111" stroke-width="1.95" stroke-linejoin="round"/><circle cx="10" cy="10" r="2.7" fill="none" stroke="#111" stroke-width="1.95"/></svg>
<div class="t" style="left:1065.5px;top:770px;font-size:13px;transform:scaleX(0.91)">Paramètres du graphique</div>
<svg class="a" style="left:1218px;top:769px" width="16" height="16" viewBox="0 0 16 16"><path d="M1 9.4L5.4 5L8 7.6L11.6 3.2L13.4 5M15 1.4L13 7" fill="none" stroke="#111" stroke-width="1.5"/><path d="M2 12.4V16M5 10.6V16M8 12V16M11 9.4V16M14 8V16" stroke="#111" stroke-width="1.5"/></svg>
<div class="t" style="left:1239.6px;top:770px;font-size:13px;transform:scaleX(0.916)">Graphique interactif</div>
<div class="a card" style="left:166px;top:818px;width:388px;height:140px"></div>
<div class="t b" style="left:182.4px;top:843px;font-size:15px;transform:scaleX(0.88)">Dernières actualités</div>
<div class="a" style="left:448px;top:835px;width:89px;height:32px;background:#f3f4f6"></div>
<svg class="a" style="left:456.6px;top:844px;overflow:hidden" width="20" height="14.6" viewBox="0 0 20 14.6"><rect width="20" height="14.6" fill="#fff"/><rect width="6.67" height="14.6" fill="#1f2f8a"/><rect x="13.33" width="6.67" height="14.6" fill="#e8303e"/></svg>
<div class="t" style="left:481.6px;top:844px;font-size:13px;transform:scaleX(0.819)">FR</div>
<svg class="a" style="left:517.3px;top:847.4px" width="9.6" height="6.2" viewBox="0 0 9.6 6.2"><path d="M1 1.2L4.8 5L8.600000000000001 1.2" fill="none" stroke="#111" stroke-width="1.7"/></svg>
<div class="t" style="left:182.5px;top:888px;font-size:15px;transform:scaleX(0.899)">POINT MARCHÉS-Léger rebond des actions en Europe,</div>
<div class="t" style="left:182.5px;top:905px;font-size:15px;transform:scaleX(0.935)">les résultats animent la séance</div>
<div class="t" style="left:182.9px;top:922px;font-size:13px;color:#8a8d91;transform:scaleX(0.9)">10:22</div>
<div class="a card" style="left:570px;top:818px;width:792px;height:140px"></div>
<div class="t b" style="left:586.3px;top:835px;font-size:15px;transform:scaleX(0.886)">Actualités</div>
<div class="t b" style="left:870px;top:868px;font-size:15px;transform:scaleX(0.877)">European shares edge higher, AstraZeneca lifts healthcare stocks</div>
<div class="t b" style="left:870px;top:889px;font-size:12px;transform:scaleX(0.834)">GLOBAL MARKETS</div>
<div class="a" style="left:976px;top:890px;width:1.4px;height:10px;background:#222"></div>
<div class="t" style="left:986px;top:889px;font-size:13px;color:#8a8d91;transform:scaleX(0.9)">10:10</div>
<div class="t" style="left:870px;top:911px;font-size:13px;transform:scaleX(0.912)">European shares edged higher on Thursday, still on track to end the week flat, as</div>
<div class="t" style="left:870px;top:925px;font-size:13px;transform:scaleX(0.928)">investors kept close watch on a barrage of earnings reports from companies for clues on</div>
<div class="t" style="left:870px;top:939px;font-size:13px;transform:scaleX(0.915)">the pace of business recovery.</div>
<svg class="a" style="left:587px;top:867px;overflow:hidden" width="268" height="90" viewBox="0 0 268 90"><rect width="268" height="90" fill="#15131c"/><rect x="0" y="0" width="268" height="37" fill="#17181a"/><rect x="44" y="1" width="42" height="30" fill="#1f2123"/><rect x="90" y="1" width="80" height="33" fill="#1c1e20"/><rect x="175" y="1" width="42" height="30" fill="#1f2123"/><path d="M46 5.0H84M177 5.0H215" stroke="#6f7478" stroke-width="0.9" stroke-dasharray="3 1.4 5 1.2 4 1.6"/><path d="M46 7.8H84M177 7.8H215" stroke="#6f7478" stroke-width="0.9" stroke-dasharray="3 1.4 5 1.2 4 1.6"/><path d="M46 10.6H84M177 10.6H215" stroke="#6f7478" stroke-width="0.9" stroke-dasharray="3 1.4 5 1.2 4 1.6"/><path d="M46 13.4H84M177 13.4H215" stroke="#6f7478" stroke-width="0.9" stroke-dasharray="3 1.4 5 1.2 4 1.6"/><path d="M46 16.2H84M177 16.2H215" stroke="#6f7478" stroke-width="0.9" stroke-dasharray="3 1.4 5 1.2 4 1.6"/><path d="M46 19.0H84M177 19.0H215" stroke="#6f7478" stroke-width="0.9" stroke-dasharray="3 1.4 5 1.2 4 1.6"/><path d="M46 21.8H84M177 21.8H215" stroke="#6f7478" stroke-width="0.9" stroke-dasharray="3 1.4 5 1.2 4 1.6"/><path d="M46 24.6H84M177 24.6H215" stroke="#6f7478" stroke-width="0.9" stroke-dasharray="3 1.4 5 1.2 4 1.6"/><path d="M46 27.4H84M177 27.4H215" stroke="#6f7478" stroke-width="0.9" stroke-dasharray="3 1.4 5 1.2 4 1.6"/><path d="M98 7V31H162" fill="none" stroke="#8d9194" stroke-width="0.7"/><path d="M99 20L102 15L106 16L110 14L114 16L118 13L124 12L130 12.5L136 10L142 8.5L148 10L154 8.5L160 9" fill="none" stroke="#e4e6e8" stroke-width="1"/><path d="M95 4H160" stroke="#8d9194" stroke-width="0.9" stroke-dasharray="4 2 9 2 12 3"/><rect x="0" y="0" width="43" height="62" fill="#3b2a63"/><rect x="219" y="0" width="49" height="62" fill="#3b2a63"/><rect x="43" y="37" width="176" height="30" fill="#b9bccb"/><rect x="43" y="35.5" width="176" height="2.4" fill="#e9ebf2"/><rect x="86" y="38" width="90" height="34" fill="#33265c"/><rect x="43" y="38" width="14" height="28" fill="#a9acbd"/><rect x="205" y="38" width="14" height="28" fill="#a9acbd"/><rect x="0" y="62" width="268" height="28" fill="#17151d"/><path d="M0 66C30 58 70 58 112 72L112 90H0Z" fill="#1b1922"/><path d="M268 66C238 58 198 58 156 72L156 90H268Z" fill="#1b1922"/><path d="M101 90C107 79 113 75 120.5 74V90Z" fill="#8d1fa8"/><path d="M161 90C155 79 149 75 141.5 74V90Z" fill="#8d1fa8"/><rect x="120.5" y="79" width="21" height="11" fill="#7a5a48"/><rect x="120.5" y="77" width="21" height="2.4" fill="#e8e6ea"/><rect x="86" y="54" width="23" height="3" fill="#eceaf0"/><rect x="94" y="57" width="8" height="18" fill="#d9d7e0"/><rect x="150" y="55" width="23" height="3" fill="#eceaf0"/><rect x="158" y="58" width="8" height="18" fill="#d9d7e0"/><rect x="129" y="60" width="6" height="20" fill="#cfcdd8"/><rect x="59" y="57" width="7" height="6" fill="#1aa0e6"/><rect x="67" y="58" width="7" height="6" fill="#2bb0ee"/><rect x="76" y="59" width="8" height="6" fill="#1aa0e6"/><rect x="60" y="64" width="8" height="7" fill="#2bb0ee"/><rect x="69" y="65" width="7" height="7" fill="#1690d8"/><rect x="78" y="66" width="8" height="7" fill="#39b8f0"/><rect x="44" y="63" width="9" height="6" fill="#1a7fc0"/><rect x="166" y="60" width="10" height="7" fill="#8ec8f4"/><rect x="168" y="68" width="9" height="7" fill="#a8d6f6"/><rect x="177" y="71" width="8" height="6" fill="#6fb4ea"/><rect x="202" y="57" width="9" height="8" fill="#2a6fd0"/><rect x="240" y="66" width="10" height="8" fill="#2a6fd0"/><rect x="231" y="64" width="4" height="6" fill="#d7dce6"/><rect x="190" y="58" width="8" height="10" fill="#15131c"/><rect x="213" y="59" width="5" height="30" fill="#e6e6ea"/><rect x="14" y="60" width="24" height="12" fill="#0e0d13"/><rect x="0" y="68" width="16" height="10" fill="#0e0d13"/><rect x="30" y="72" width="26" height="10" fill="#0e0d13"/><rect x="226" y="60" width="20" height="12" fill="#0e0d13"/><rect x="188" y="72" width="24" height="12" fill="#0e0d13"/><rect x="246" y="74" width="22" height="12" fill="#0e0d13"/><rect x="158" y="52" width="8" height="8" fill="#0e0d13"/><text x="11.7" y="24.5" font-size="3.4" textLength="19.6" lengthAdjust="spacingAndGlyphs" font-family="Liberation Serif, serif" fill="#e9e6f2">Let’s make</text><text x="1.2" y="30.3" font-size="8.4" textLength="36.2" lengthAdjust="spacingAndGlyphs" font-weight="700" font-family="Liberation Serif, serif" fill="#e9e6f2">tomorrow</text><text x="18.5" y="35.5" font-size="3.2" textLength="15.8" lengthAdjust="spacingAndGlyphs" font-family="Liberation Serif, serif" fill="#e9e6f2">different</text><text x="8" y="41.4" font-size="6.2" textLength="15.8" lengthAdjust="spacingAndGlyphs" font-weight="700" font-family="Liberation Serif, serif" fill="#e9e6f2">today</text><text x="236" y="24.8" font-size="3.4" textLength="19.6" lengthAdjust="spacingAndGlyphs" font-family="Liberation Serif, serif" fill="#e9e6f2">Let’s make</text><text x="224.8" y="30.6" font-size="8.4" textLength="36.8" lengthAdjust="spacingAndGlyphs" font-weight="700" font-family="Liberation Serif, serif" fill="#e9e6f2">tomorrow</text><text x="241.4" y="36.2" font-size="3.2" textLength="16.6" lengthAdjust="spacingAndGlyphs" font-family="Liberation Serif, serif" fill="#e9e6f2">different</text><text x="230.5" y="41.9" font-size="6.2" textLength="16.2" lengthAdjust="spacingAndGlyphs" font-weight="700" font-family="Liberation Serif, serif" fill="#e9e6f2">today</text><text x="131.5" y="45.3" font-size="3.1" font-weight="700" text-anchor="middle" fill="#d9d5ea" font-family="Liberation Sans, sans-serif">#LISTEDINFRANKFURT</text><text x="131.5" y="52.4" font-size="5.2" font-weight="700" text-anchor="middle" fill="#e9e6f2" font-family="Liberation Sans, sans-serif">SIEMENS</text><text x="131.5" y="57" font-size="5" text-anchor="middle" fill="#cfc8ea" font-family="Liberation Sans, sans-serif">energy</text><text x="0.5" y="3" font-size="2.6" font-weight="700" fill="#d9d5ea" font-family="Liberation Sans, sans-serif">SIEMENS</text><text x="250.5" y="3" font-size="2.6" font-weight="700" fill="#d9d5ea" font-family="Liberation Sans, sans-serif">SIEMENS</text></svg>
<div class="a card" style="left:1378px;top:818px;width:388px;height:140px"></div>
<div class="t b" style="left:1393.9px;top:835px;font-size:15px;transform:scaleX(0.878)">Devises</div>
<svg class="a" style="left:1395px;top:869px;overflow:hidden" width="20" height="15" viewBox="0 0 20 15"><rect width="20" height="15" fill="#0a3fa0"/><circle cx="13.60" cy="7.50" r="0.55" fill="#f5d21f"/><circle cx="13.12" cy="9.30" r="0.55" fill="#f5d21f"/><circle cx="11.80" cy="10.62" r="0.55" fill="#f5d21f"/><circle cx="10.00" cy="11.10" r="0.55" fill="#f5d21f"/><circle cx="8.20" cy="10.62" r="0.55" fill="#f5d21f"/><circle cx="6.88" cy="9.30" r="0.55" fill="#f5d21f"/><circle cx="6.40" cy="7.50" r="0.55" fill="#f5d21f"/><circle cx="6.88" cy="5.70" r="0.55" fill="#f5d21f"/><circle cx="8.20" cy="4.38" r="0.55" fill="#f5d21f"/><circle cx="10.00" cy="3.90" r="0.55" fill="#f5d21f"/><circle cx="11.80" cy="4.38" r="0.55" fill="#f5d21f"/><circle cx="13.12" cy="5.70" r="0.55" fill="#f5d21f"/></svg>
<svg class="a" style="left:1423px;top:869px;overflow:hidden" width="20" height="15" viewBox="0 0 20 15"><rect width="20" height="15" fill="#fff"/><rect y="0.00" width="20" height="1.15" fill="#c9303e"/><rect y="2.31" width="20" height="1.15" fill="#c9303e"/><rect y="4.62" width="20" height="1.15" fill="#c9303e"/><rect y="6.92" width="20" height="1.15" fill="#c9303e"/><rect y="9.23" width="20" height="1.15" fill="#c9303e"/><rect y="11.54" width="20" height="1.15" fill="#c9303e"/><rect y="13.85" width="20" height="1.15" fill="#c9303e"/><rect width="9.2" height="8.10" fill="#3c3b6e"/><circle cx="1.3" cy="1.2" r="0.35" fill="#fff"/><circle cx="1.3" cy="2.9" r="0.35" fill="#fff"/><circle cx="1.3" cy="4.6" r="0.35" fill="#fff"/><circle cx="1.3" cy="6.3" r="0.35" fill="#fff"/><circle cx="3.2" cy="1.2" r="0.35" fill="#fff"/><circle cx="3.2" cy="2.9" r="0.35" fill="#fff"/><circle cx="3.2" cy="4.6" r="0.35" fill="#fff"/><circle cx="3.2" cy="6.3" r="0.35" fill="#fff"/><circle cx="5.1" cy="1.2" r="0.35" fill="#fff"/><circle cx="5.1" cy="2.9" r="0.35" fill="#fff"/><circle cx="5.1" cy="4.6" r="0.35" fill="#fff"/><circle cx="5.1" cy="6.3" r="0.35" fill="#fff"/><circle cx="7.0" cy="1.2" r="0.35" fill="#fff"/><circle cx="7.0" cy="2.9" r="0.35" fill="#fff"/><circle cx="7.0" cy="4.6" r="0.35" fill="#fff"/><circle cx="7.0" cy="6.3" r="0.35" fill="#fff"/><circle cx="8.9" cy="1.2" r="0.35" fill="#fff"/><circle cx="8.9" cy="2.9" r="0.35" fill="#fff"/><circle cx="8.9" cy="4.6" r="0.35" fill="#fff"/><circle cx="8.9" cy="6.3" r="0.35" fill="#fff"/></svg>
<div class="t" style="left:1458.2px;top:870px;font-size:13px;transform:scaleX(0.851)">EUR/USD</div>
<div class="a" style="left:1656px;top:868px;width:37px;height:18px;background:#85c6a8"></div>
<div class="t r" style="right:166.4px;top:870px;font-size:13px;transform:scaleX(0.891)">1,2132</div>
<div class="t r" style="right:110.8px;top:870px;font-size:13px;color:#0d9258;transform:scaleX(0.838)">+0,10%</div>
<div class="a" style="left:1379px;top:894.4px;width:386px;height:1px;background:#e6e7e9"></div>
<svg class="a" style="left:1395px;top:904.9px;overflow:hidden" width="20" height="15" viewBox="0 0 20 15"><rect width="20" height="15" fill="#0a3fa0"/><circle cx="13.60" cy="7.50" r="0.55" fill="#f5d21f"/><circle cx="13.12" cy="9.30" r="0.55" fill="#f5d21f"/><circle cx="11.80" cy="10.62" r="0.55" fill="#f5d21f"/><circle cx="10.00" cy="11.10" r="0.55" fill="#f5d21f"/><circle cx="8.20" cy="10.62" r="0.55" fill="#f5d21f"/><circle cx="6.88" cy="9.30" r="0.55" fill="#f5d21f"/><circle cx="6.40" cy="7.50" r="0.55" fill="#f5d21f"/><circle cx="6.88" cy="5.70" r="0.55" fill="#f5d21f"/><circle cx="8.20" cy="4.38" r="0.55" fill="#f5d21f"/><circle cx="10.00" cy="3.90" r="0.55" fill="#f5d21f"/><circle cx="11.80" cy="4.38" r="0.55" fill="#f5d21f"/><circle cx="13.12" cy="5.70" r="0.55" fill="#f5d21f"/></svg>
<svg class="a" style="left:1423px;top:904.9px;overflow:hidden" width="20" height="15" viewBox="0 0 20 15"><rect width="20" height="15" fill="#1b2f6e"/><path d="M0 0L20 15M20 0L0 15" stroke="#fff" stroke-width="2.8"/><path d="M0 0L20 15M20 0L0 15" stroke="#cf2338" stroke-width="1"/><path d="M10.0 0V15M0 7.5H20" stroke="#fff" stroke-width="4.6"/><path d="M10.0 0V15M0 7.5H20" stroke="#cf2338" stroke-width="2.6"/></svg>
<div class="t" style="left:1458.2px;top:906px;font-size:13px;transform:scaleX(0.851)">EUR/GBP</div>
<div class="t r b" style="right:166.4px;top:906px;font-size:13px;transform:scaleX(0.894)">0,877</div>
<div class="t r" style="right:110.8px;top:906px;font-size:13px;color:#0d9258;transform:scaleX(0.838)">+0,09%</div>
<div class="a" style="left:1379px;top:930.4px;width:386px;height:1px;background:#e6e7e9"></div>
<svg class="a" style="left:1395px;top:940.9px;overflow:hidden" width="20" height="15" viewBox="0 0 20 15"><rect width="20" height="15" fill="#0a3fa0"/><circle cx="13.60" cy="7.50" r="0.55" fill="#f5d21f"/><circle cx="13.12" cy="9.30" r="0.55" fill="#f5d21f"/><circle cx="11.80" cy="10.62" r="0.55" fill="#f5d21f"/><circle cx="10.00" cy="11.10" r="0.55" fill="#f5d21f"/><circle cx="8.20" cy="10.62" r="0.55" fill="#f5d21f"/><circle cx="6.88" cy="9.30" r="0.55" fill="#f5d21f"/><circle cx="6.40" cy="7.50" r="0.55" fill="#f5d21f"/><circle cx="6.88" cy="5.70" r="0.55" fill="#f5d21f"/><circle cx="8.20" cy="4.38" r="0.55" fill="#f5d21f"/><circle cx="10.00" cy="3.90" r="0.55" fill="#f5d21f"/><circle cx="11.80" cy="4.38" r="0.55" fill="#f5d21f"/><circle cx="13.12" cy="5.70" r="0.55" fill="#f5d21f"/></svg>
<svg class="a" style="left:1423px;top:940.9px;overflow:hidden" width="20" height="15" viewBox="0 0 20 15"><rect width="20" height="15" fill="#e0202a"/><path d="M10.0 3.0V12.0M5.5 7.5H14.5" stroke="#fff" stroke-width="3.0"/></svg>
<div class="t" style="left:1458.2px;top:942px;font-size:13px;transform:scaleX(0.862)">EUR/CHF</div>
<div class="t r b" style="right:166.4px;top:942px;font-size:13px;transform:scaleX(0.896)">1,0795</div>
<div class="t r" style="right:110.8px;top:942px;font-size:13px;color:#0d9258;transform:scaleX(0.838)">+0,03%</div>
<div class="a" style="left:1833px;top:406px;width:26px;height:97px;background:#333"></div>
<div class="a" style="left:1833px;top:406px;width:26px;height:97px"><div style="position:absolute;left:13.6px;top:48px;transform:translate(-50%,-50%) rotate(-90deg);font-size:12px;font-weight:700;color:#fff;white-space:nowrap;line-height:1">Commentaire</div></div>
</body></html>
